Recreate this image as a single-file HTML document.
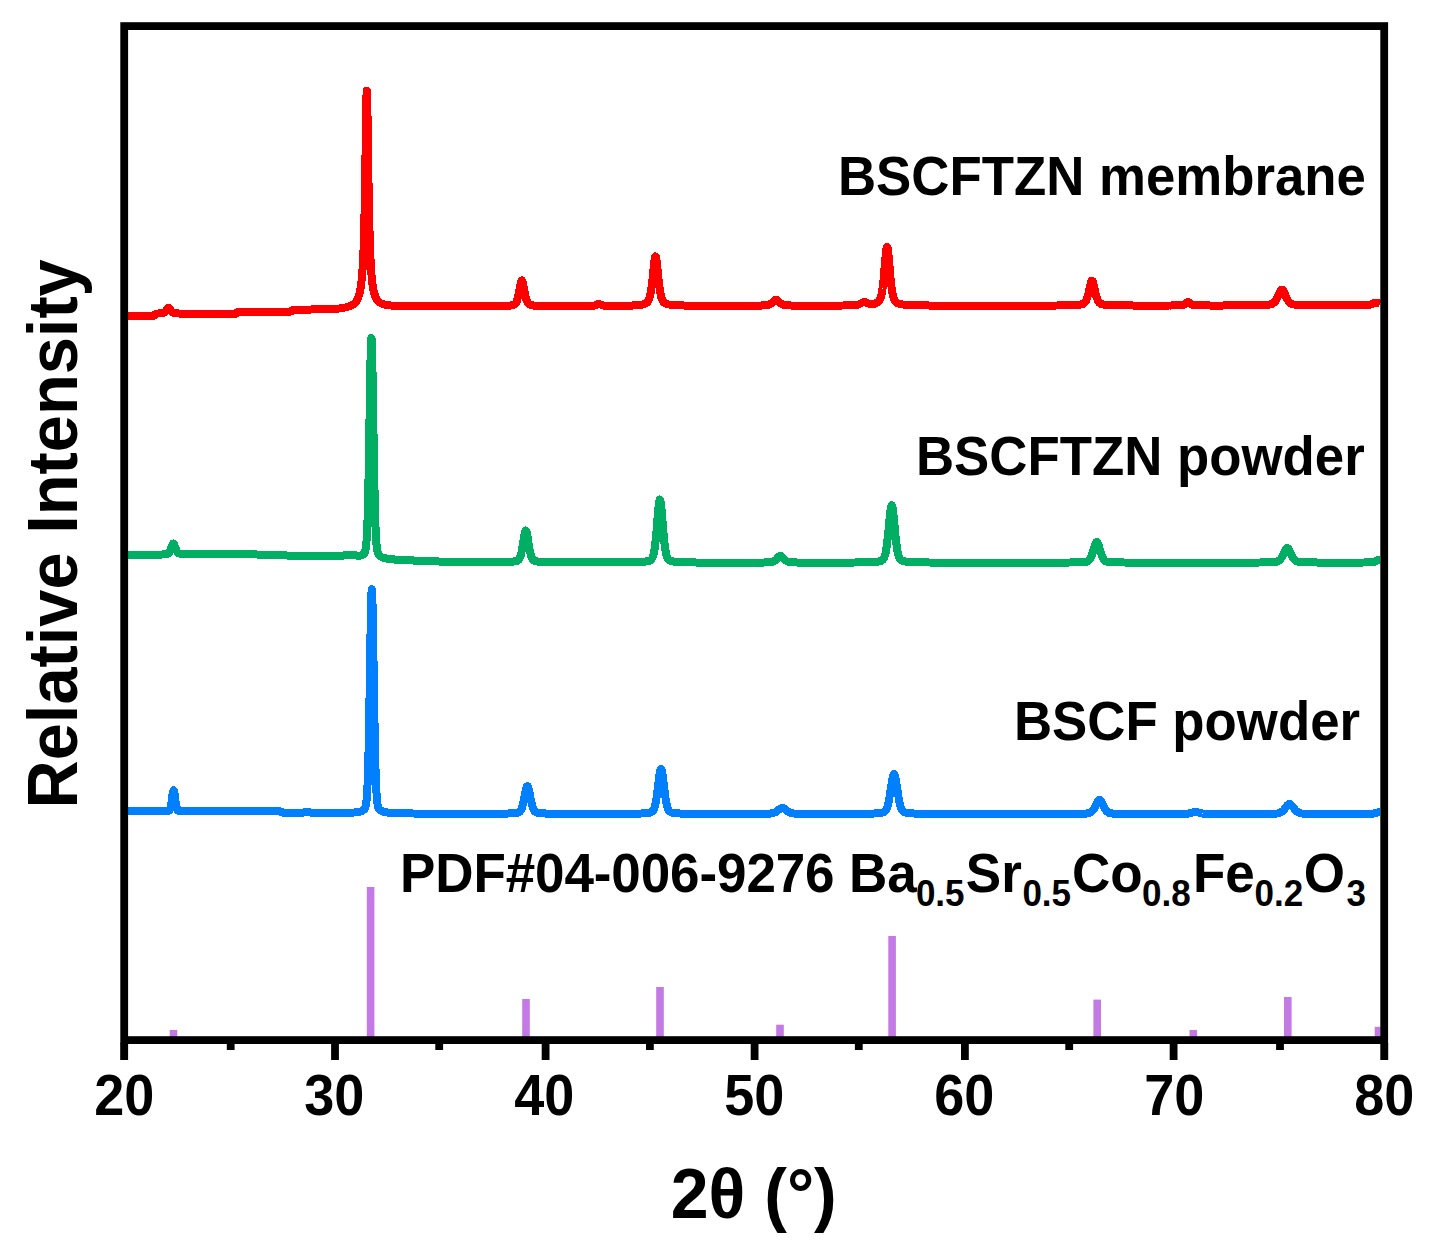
<!DOCTYPE html>
<html><head><meta charset="utf-8"><style>
html,body{margin:0;padding:0;background:#fff;width:1432px;height:1251px;overflow:hidden}
svg{display:block}
.t{font-family:"Liberation Sans",sans-serif;font-weight:bold;fill:#000}
</style></head><body>
<svg width="1432" height="1251" viewBox="0 0 1432 1251">
<rect x="169.7" y="1030.0" width="7.6" height="7.0" fill="#c47ae4"/>
<rect x="366.8" y="887.0" width="7.6" height="150.0" fill="#c47ae4"/>
<rect x="522.2" y="999.0" width="7.6" height="38.0" fill="#c47ae4"/>
<rect x="656.2" y="987.0" width="7.6" height="50.0" fill="#c47ae4"/>
<rect x="776.2" y="1024.7" width="7.6" height="12.3" fill="#c47ae4"/>
<rect x="888.3" y="936.0" width="7.6" height="101.0" fill="#c47ae4"/>
<rect x="1093.4" y="999.6" width="7.6" height="37.4" fill="#c47ae4"/>
<rect x="1189.5" y="1030.0" width="7.6" height="7.0" fill="#c47ae4"/>
<rect x="1284.0" y="997.0" width="7.6" height="40.0" fill="#c47ae4"/>
<rect x="1374.7" y="1026.8" width="5.8" height="10.2" fill="#c47ae4"/>
<path d="M128.00 315.77L128.50 315.77L129.00 315.77L129.50 315.77L130.00 315.77L130.50 315.77L131.00 315.77L131.50 315.77L132.00 315.77L132.50 315.77L133.00 315.77L133.50 315.77L134.00 315.77L134.50 315.77L135.00 315.76L135.50 315.76L136.00 315.76L136.50 315.76L137.00 315.76L137.50 315.76L138.00 315.76L138.50 315.76L139.00 315.76L139.50 315.76L140.00 315.76L140.50 315.76L141.00 315.76L141.50 315.75L142.00 315.75L142.50 315.75L143.00 315.75L143.50 315.75L144.00 315.75L144.50 315.75L145.00 315.75L145.50 315.74L146.00 315.74L146.50 315.74L147.00 315.74L147.50 315.74L148.00 315.74L148.50 315.73L149.00 315.73L149.50 315.73L150.00 315.73L150.50 315.72L151.00 315.72L151.50 315.72L152.00 315.71L152.50 315.71L153.00 315.70L153.50 315.70L154.00 315.69L154.50 315.16L155.00 314.63L155.50 314.10L156.00 313.56L156.50 313.55L157.00 313.54L157.50 313.53L158.00 313.52L158.50 313.50L159.00 313.49L159.50 313.47L160.00 313.44L160.50 313.41L161.00 313.38L161.50 313.33L162.00 313.28L162.50 313.20L163.00 313.08L163.50 312.93L164.00 312.70L164.50 312.40L165.00 311.99L165.50 311.46L166.00 310.82L166.50 310.08L167.00 309.29L167.50 308.54L168.00 307.96L168.50 307.68L168.60 307.67L169.00 307.80L169.50 308.28L170.00 308.98L170.50 309.76L171.00 310.53L171.50 311.21L172.00 311.79L172.50 312.24L173.00 312.59L173.50 312.84L174.00 313.03L174.50 313.15L175.00 313.24L175.50 313.31L176.00 313.36L176.50 313.40L177.00 313.43L177.50 313.45L178.00 313.47L178.50 313.49L179.00 313.51L179.50 313.52L180.00 313.53L180.50 313.54L181.00 313.55L181.50 313.56L182.00 313.57L182.50 313.58L183.00 313.58L183.50 313.59L184.00 313.59L184.50 313.60L185.00 313.60L185.50 313.61L186.00 313.61L186.50 313.61L187.00 313.62L187.50 313.62L188.00 313.62L188.50 313.62L189.00 313.62L189.50 313.63L190.00 313.63L190.50 313.63L191.00 313.63L191.50 313.63L192.00 313.63L192.50 313.64L193.00 313.64L193.50 313.64L194.00 313.64L194.50 313.64L195.00 313.64L195.50 313.64L196.00 313.64L196.50 313.64L197.00 313.64L197.50 313.64L198.00 313.64L198.50 313.64L199.00 313.65L199.50 313.65L200.00 313.65L200.50 313.65L201.00 313.65L201.50 313.65L202.00 313.65L202.50 313.65L203.00 313.65L203.50 313.65L204.00 313.65L204.50 313.65L205.00 313.65L205.50 313.65L206.00 313.65L206.50 313.65L207.00 313.65L207.50 313.65L208.00 313.65L208.50 313.65L209.00 313.65L209.50 313.65L210.00 313.65L210.50 313.65L211.00 313.65L211.50 313.65L212.00 313.65L212.50 313.65L213.00 313.65L213.50 313.65L214.00 313.65L214.50 313.65L215.00 313.65L215.50 313.65L216.00 313.65L216.50 313.65L217.00 313.65L217.50 313.65L218.00 313.65L218.50 313.65L219.00 313.65L219.50 313.65L220.00 313.65L220.50 313.65L221.00 313.65L221.50 313.65L222.00 313.65L222.50 313.65L223.00 313.65L223.50 313.65L224.00 313.65L224.50 313.65L225.00 313.65L225.50 313.65L226.00 313.65L226.50 313.65L227.00 313.65L227.50 313.65L228.00 313.65L228.50 313.65L229.00 313.64L229.50 313.64L230.00 313.64L230.50 313.64L231.00 313.64L231.50 313.64L232.00 313.64L232.50 313.64L233.00 313.64L233.50 313.64L234.00 313.64L234.50 313.64L235.00 313.64L235.50 313.64L236.00 313.64L236.50 313.14L237.00 312.64L237.50 312.14L238.00 311.64L238.50 311.64L239.00 311.64L239.50 311.64L240.00 311.64L240.50 311.64L241.00 311.64L241.50 311.64L242.00 311.64L242.50 311.64L243.00 311.64L243.50 311.63L244.00 311.63L244.50 311.63L245.00 311.63L245.50 311.63L246.00 311.63L246.50 311.63L247.00 311.63L247.50 311.63L248.00 311.63L248.50 311.63L249.00 311.63L249.50 311.63L250.00 311.63L250.50 311.63L251.00 311.63L251.50 311.63L252.00 311.63L252.50 311.63L253.00 311.63L253.50 311.62L254.00 311.62L254.50 311.62L255.00 311.62L255.50 311.62L256.00 311.62L256.50 311.62L257.00 311.62L257.50 311.62L258.00 311.62L258.50 311.62L259.00 311.62L259.50 311.62L260.00 311.62L260.50 311.62L261.00 311.62L261.50 311.61L262.00 311.61L262.50 311.61L263.00 311.61L263.50 311.61L264.00 311.61L264.50 311.61L265.00 311.61L265.50 311.61L266.00 311.61L266.50 311.61L267.00 311.61L267.50 311.60L268.00 311.60L268.50 311.60L269.00 311.60L269.50 311.60L270.00 311.60L270.50 311.60L271.00 311.60L271.50 311.60L272.00 311.60L272.50 311.60L273.00 311.59L273.50 311.59L274.00 311.59L274.50 311.59L275.00 311.59L275.50 311.59L276.00 311.59L276.50 311.59L277.00 311.59L277.50 311.58L278.00 311.58L278.50 311.58L279.00 311.58L279.50 311.58L280.00 311.58L280.50 311.58L281.00 311.57L281.50 311.57L282.00 311.57L282.50 311.57L283.00 311.57L283.50 311.57L284.00 311.57L284.50 311.56L285.00 311.56L285.50 311.56L286.00 311.56L286.50 311.56L287.00 311.56L287.50 311.55L288.00 311.55L288.50 311.55L289.00 311.55L289.50 311.55L290.00 311.55L290.50 311.54L291.00 311.54L291.50 311.09L292.00 310.64L292.50 310.19L293.00 309.73L293.50 309.73L294.00 309.72L294.50 309.72L295.00 309.71L295.50 309.71L296.00 309.70L296.50 309.69L297.00 309.69L297.50 309.68L298.00 309.68L298.50 309.67L299.00 309.67L299.50 309.66L300.00 309.65L300.50 309.65L301.00 309.64L301.50 309.63L302.00 309.63L302.50 309.62L303.00 309.62L303.50 309.61L304.00 309.60L304.50 309.60L305.00 309.59L305.50 309.58L306.00 309.57L306.50 309.57L307.00 309.56L307.50 309.55L308.00 309.55L308.50 309.54L309.00 309.53L309.50 309.52L310.00 309.51L310.50 309.51L311.00 309.50L311.50 309.49L312.00 309.48L312.50 309.47L313.00 309.46L313.50 309.46L314.00 309.45L314.50 309.44L315.00 309.43L315.50 309.42L316.00 309.41L316.50 309.40L317.00 309.39L317.50 309.38L318.00 309.37L318.50 309.36L319.00 309.35L319.50 309.33L320.00 309.32L320.50 309.31L321.00 309.30L321.50 309.29L322.00 309.27L322.50 309.26L323.00 309.25L323.50 309.23L324.00 309.22L324.50 309.21L325.00 309.19L325.50 309.18L326.00 309.16L326.50 309.14L327.00 309.13L327.50 309.11L328.00 309.09L328.50 309.07L329.00 309.05L329.50 309.04L330.00 309.01L330.50 308.99L331.00 308.97L331.50 308.95L332.00 308.93L332.50 308.90L333.00 308.88L333.50 308.85L334.00 308.82L334.50 308.80L335.00 308.77L335.50 308.74L336.00 308.70L336.50 308.67L337.00 308.64L337.50 308.60L338.00 308.56L338.50 308.52L339.00 308.48L339.50 308.43L340.00 308.39L340.50 308.32L341.00 308.24L341.50 308.16L342.00 308.08L342.50 308.00L343.00 307.91L343.50 307.82L344.00 307.73L344.50 307.63L345.00 307.52L345.50 307.41L346.00 307.29L346.50 307.17L347.00 307.04L347.50 306.90L348.00 306.75L348.50 306.59L349.00 306.42L349.50 306.24L350.00 306.04L350.50 305.83L351.00 305.60L351.50 305.35L352.00 305.08L352.50 304.78L353.00 304.45L353.50 304.09L354.00 303.69L354.50 303.25L355.00 302.75L355.50 302.19L356.00 301.56L356.50 300.85L357.00 300.03L357.50 299.08L358.00 297.99L358.50 296.71L359.00 295.21L359.50 293.41L360.00 291.25L360.50 288.63L361.00 285.41L361.50 281.38L362.00 276.30L362.50 269.76L363.00 261.24L363.50 249.96L364.00 234.89L364.50 214.69L365.00 188.15L365.50 155.39L366.00 120.77L366.50 95.53L366.80 90.72L367.00 92.87L367.50 114.43L368.00 148.24L368.50 181.87L369.00 209.70L369.50 231.03L370.00 246.97L370.50 258.86L371.00 267.81L371.50 274.64L372.00 279.93L372.50 284.09L373.00 287.41L373.50 290.09L374.00 292.28L374.50 294.09L375.00 295.59L375.50 296.86L376.00 297.94L376.50 298.86L377.00 299.65L377.50 300.34L378.00 300.93L378.50 301.45L379.00 301.91L379.50 302.31L380.00 302.67L380.50 302.99L381.00 303.27L381.50 303.52L382.00 303.75L382.50 303.95L383.00 304.13L383.50 304.30L384.00 304.45L384.50 304.58L385.00 304.70L385.50 304.81L386.00 304.91L386.50 305.00L387.00 305.08L387.50 305.16L388.00 305.22L388.50 305.29L389.00 305.34L389.50 305.39L390.00 305.44L390.50 305.48L391.00 305.51L391.50 305.55L392.00 305.58L392.50 305.60L393.00 305.63L393.50 305.65L394.00 305.67L394.50 305.68L395.00 305.70L395.50 305.73L396.00 305.77L396.50 305.80L397.00 305.83L397.50 305.86L398.00 305.89L398.50 305.91L399.00 305.94L399.50 305.96L400.00 305.98L400.50 306.01L401.00 306.03L401.50 306.05L402.00 306.06L402.50 306.08L403.00 306.10L403.50 306.12L404.00 306.13L404.50 306.15L405.00 306.16L405.50 306.17L406.00 306.19L406.50 306.20L407.00 306.21L407.50 306.22L408.00 306.24L408.50 306.25L409.00 306.26L409.50 306.27L410.00 306.28L410.50 306.28L411.00 306.29L411.50 306.30L412.00 306.31L412.50 306.32L413.00 306.32L413.50 306.33L414.00 306.34L414.50 306.34L415.00 306.35L415.50 306.36L416.00 306.36L416.50 306.37L417.00 306.37L417.50 306.38L418.00 306.38L418.50 306.39L419.00 306.39L419.50 306.40L420.00 306.40L420.50 306.41L421.00 306.41L421.50 306.41L422.00 306.42L422.50 306.42L423.00 306.42L423.50 306.43L424.00 306.43L424.50 306.43L425.00 306.44L425.50 306.44L426.00 306.44L426.50 306.45L427.00 306.45L427.50 306.45L428.00 306.45L428.50 306.45L429.00 306.46L429.50 306.46L430.00 306.46L430.50 306.46L431.00 306.46L431.50 306.47L432.00 306.47L432.50 306.47L433.00 306.47L433.50 306.47L434.00 306.47L434.50 306.47L435.00 306.47L435.50 306.48L436.00 306.48L436.50 306.48L437.00 306.48L437.50 306.48L438.00 306.48L438.50 306.48L439.00 306.48L439.50 306.48L440.00 306.48L440.50 306.48L441.00 306.48L441.50 306.48L442.00 306.48L442.50 306.48L443.00 306.49L443.50 306.49L444.00 306.49L444.50 306.49L445.00 306.49L445.50 306.49L446.00 306.49L446.50 306.49L447.00 306.49L447.50 306.49L448.00 306.49L448.50 306.49L449.00 306.49L449.50 306.49L450.00 306.48L450.50 306.48L451.00 306.48L451.50 306.48L452.00 306.48L452.50 306.48L453.00 306.48L453.50 306.48L454.00 306.48L454.50 306.48L455.00 306.48L455.50 306.48L456.00 306.48L456.50 306.48L457.00 306.48L457.50 306.48L458.00 306.48L458.50 306.48L459.00 306.47L459.50 306.47L460.00 306.47L460.50 306.47L461.00 306.47L461.50 306.47L462.00 306.47L462.50 306.47L463.00 306.47L463.50 306.47L464.00 306.46L464.50 306.46L465.00 306.46L465.50 306.46L466.00 306.46L466.50 306.46L467.00 306.46L467.50 306.46L468.00 306.45L468.50 306.45L469.00 306.45L469.50 306.45L470.00 306.45L470.50 306.45L471.00 306.45L471.50 306.44L472.00 306.44L472.50 306.44L473.00 306.44L473.50 306.44L474.00 306.44L474.50 306.43L475.00 306.43L475.50 306.43L476.00 306.43L476.50 306.43L477.00 306.42L477.50 306.42L478.00 306.42L478.50 306.42L479.00 306.41L479.50 306.41L480.00 306.41L480.50 306.41L481.00 306.40L481.50 306.40L482.00 306.40L482.50 306.40L483.00 306.39L483.50 306.39L484.00 306.39L484.50 306.38L485.00 306.38L485.50 306.38L486.00 306.37L486.50 306.37L487.00 306.37L487.50 306.36L488.00 306.36L488.50 306.36L489.00 306.35L489.50 306.35L490.00 306.34L490.50 306.34L491.00 306.33L491.50 306.33L492.00 306.32L492.50 306.32L493.00 306.31L493.50 306.31L494.00 306.30L494.50 306.29L495.00 306.29L495.50 306.28L496.00 306.27L496.50 306.26L497.00 306.25L497.50 306.25L498.00 306.24L498.50 306.23L499.00 306.22L499.50 306.21L500.00 306.19L500.50 306.18L501.00 306.17L501.50 306.15L502.00 306.14L502.50 306.12L503.00 306.10L503.50 306.08L504.00 306.06L504.50 306.04L505.00 306.02L505.50 305.99L506.00 305.97L506.50 305.93L507.00 305.90L507.50 305.86L508.00 305.82L508.50 305.78L509.00 305.73L509.50 305.68L510.00 305.62L510.50 305.55L511.00 305.47L511.50 305.38L512.00 305.28L512.50 305.16L513.00 305.01L513.50 304.83L514.00 304.60L514.50 304.30L515.00 303.90L515.50 303.37L516.00 302.67L516.50 301.74L517.00 300.53L517.50 299.00L518.00 297.11L518.50 294.88L519.00 292.32L519.50 289.54L520.00 286.69L520.50 284.01L521.00 281.86L521.50 280.59L521.80 280.37L522.00 280.46L522.50 281.52L523.00 283.52L523.50 286.12L524.00 288.95L524.50 291.76L525.00 294.37L525.50 296.67L526.00 298.62L526.50 300.22L527.00 301.48L527.50 302.46L528.00 303.21L528.50 303.76L529.00 304.18L529.50 304.49L530.00 304.73L530.50 304.92L531.00 305.07L531.50 305.19L532.00 305.29L532.50 305.38L533.00 305.46L533.50 305.52L534.00 305.58L534.50 305.64L535.00 305.68L535.50 305.73L536.00 305.76L536.50 305.80L537.00 305.83L537.50 305.86L538.00 305.88L538.50 305.90L539.00 305.92L539.50 305.94L540.00 305.96L540.50 305.98L541.00 305.99L541.50 306.00L542.00 306.02L542.50 306.03L543.00 306.04L543.50 306.05L544.00 306.06L544.50 306.06L545.00 306.07L545.50 306.08L546.00 306.09L546.50 306.09L547.00 306.10L547.50 306.10L548.00 306.11L548.50 306.11L549.00 306.11L549.50 306.12L550.00 306.12L550.50 306.12L551.00 306.13L551.50 306.13L552.00 306.13L552.50 306.13L553.00 306.14L553.50 306.14L554.00 306.14L554.50 306.14L555.00 306.14L555.50 306.14L556.00 306.14L556.50 306.14L557.00 306.15L557.50 306.15L558.00 306.15L558.50 306.15L559.00 306.15L559.50 306.15L560.00 306.15L560.50 306.15L561.00 306.15L561.50 306.15L562.00 306.15L562.50 306.15L563.00 306.15L563.50 306.14L564.00 306.14L564.50 306.14L565.00 306.14L565.50 306.14L566.00 306.14L566.50 306.14L567.00 306.14L567.50 306.14L568.00 306.14L568.50 306.14L569.00 306.13L569.50 306.13L570.00 306.13L570.50 306.13L571.00 306.13L571.50 306.13L572.00 306.13L572.50 306.12L573.00 306.12L573.50 306.12L574.00 306.12L574.50 306.12L575.00 306.11L575.50 306.11L576.00 306.11L576.50 306.11L577.00 306.11L577.50 306.10L578.00 306.10L578.50 306.10L579.00 306.10L579.50 306.09L580.00 306.09L580.50 306.09L581.00 306.08L581.50 306.08L582.00 306.08L582.50 306.07L583.00 306.07L583.50 306.07L584.00 306.06L584.50 306.06L585.00 306.05L585.50 306.05L586.00 306.04L586.50 306.04L587.00 306.03L587.50 306.02L588.00 306.01L588.50 306.00L589.00 306.00L589.50 305.98L590.00 305.97L590.50 305.96L591.00 305.94L591.50 305.91L592.00 305.88L592.50 305.84L593.00 305.79L593.50 305.72L594.00 305.63L594.50 305.51L595.00 305.37L595.50 305.20L596.00 305.01L596.50 304.79L597.00 304.57L597.50 304.36L598.00 304.18L598.50 304.06L598.90 304.03L599.00 304.03L599.50 304.09L600.00 304.23L600.50 304.42L601.00 304.63L601.50 304.85L602.00 305.05L602.50 305.23L603.00 305.38L603.50 305.51L604.00 305.61L604.50 305.68L605.00 305.74L605.50 305.78L606.00 305.81L606.50 305.83L607.00 305.85L607.50 305.86L608.00 305.87L608.50 305.87L609.00 305.88L609.50 305.88L610.00 305.88L610.50 305.89L611.00 305.89L611.50 305.89L612.00 305.88L612.50 305.88L613.00 305.88L613.50 305.88L614.00 305.88L614.50 305.87L615.00 305.87L615.50 305.87L616.00 305.86L616.50 305.86L617.00 305.85L617.50 305.85L618.00 305.84L618.50 305.84L619.00 305.83L619.50 305.83L620.00 305.82L620.50 305.81L621.00 305.81L621.50 305.80L622.00 305.79L622.50 305.78L623.00 305.78L623.50 305.77L624.00 305.76L624.50 305.75L625.00 305.74L625.50 305.73L626.00 305.72L626.50 305.71L627.00 305.69L627.50 305.68L628.00 305.67L628.50 305.66L629.00 305.64L629.50 305.63L630.00 305.61L630.50 305.59L631.00 305.57L631.50 305.55L632.00 305.53L632.50 305.51L633.00 305.49L633.50 305.47L634.00 305.44L634.50 305.41L635.00 305.38L635.50 305.35L636.00 305.32L636.50 305.28L637.00 305.24L637.50 305.20L638.00 305.16L638.50 305.11L639.00 305.05L639.50 305.00L640.00 304.93L640.50 304.86L641.00 304.79L641.50 304.70L642.00 304.61L642.50 304.51L643.00 304.40L643.50 304.27L644.00 304.13L644.50 303.97L645.00 303.78L645.50 303.56L646.00 303.30L646.50 302.98L647.00 302.58L647.50 302.07L648.00 301.42L648.50 300.57L649.00 299.45L649.50 298.00L650.00 296.14L650.50 293.79L651.00 290.90L651.50 287.44L652.00 283.40L652.50 278.86L653.00 273.96L653.50 268.94L654.00 264.17L654.50 260.14L655.00 257.40L655.50 256.42L656.00 257.40L656.50 260.13L657.00 264.16L657.50 268.93L658.00 273.94L658.50 278.84L659.00 283.38L659.50 287.41L660.00 290.87L660.50 293.76L661.00 296.10L661.50 297.96L662.00 299.41L662.50 300.52L663.00 301.37L663.50 302.02L664.00 302.52L664.50 302.92L665.00 303.23L665.50 303.49L666.00 303.71L666.50 303.89L667.00 304.05L667.50 304.19L668.00 304.31L668.50 304.42L669.00 304.52L669.50 304.61L670.00 304.69L670.50 304.76L671.00 304.83L671.50 304.89L672.00 304.94L672.50 304.99L673.00 305.04L673.50 305.08L674.00 305.12L674.50 305.16L675.00 305.19L675.50 305.22L676.00 305.25L676.50 305.27L677.00 305.30L677.50 305.32L678.00 305.34L678.50 305.36L679.00 305.38L679.50 305.40L680.00 305.41L680.50 305.43L681.00 305.44L681.50 305.45L682.00 305.47L682.50 305.48L683.00 305.49L683.50 305.50L684.00 305.51L684.50 305.52L685.00 305.53L685.50 305.53L686.00 305.54L686.50 305.55L687.00 305.55L687.50 305.56L688.00 305.57L688.50 305.57L689.00 305.58L689.50 305.58L690.00 305.59L690.50 305.59L691.00 305.60L691.50 305.60L692.00 305.60L692.50 305.61L693.00 305.61L693.50 305.61L694.00 305.61L694.50 305.62L695.00 305.62L695.50 305.62L696.00 305.62L696.50 305.63L697.00 305.63L697.50 305.63L698.00 305.63L698.50 305.63L699.00 305.63L699.50 305.64L700.00 305.64L700.50 305.64L701.00 305.64L701.50 305.64L702.00 305.65L702.50 305.65L703.00 305.65L703.50 305.65L704.00 305.65L704.50 305.66L705.00 305.66L705.50 305.66L706.00 305.66L706.50 305.66L707.00 305.66L707.50 305.67L708.00 305.67L708.50 305.67L709.00 305.67L709.50 305.67L710.00 305.67L710.50 305.67L711.00 305.68L711.50 305.68L712.00 305.68L712.50 305.68L713.00 305.68L713.50 305.68L714.00 305.68L714.50 305.68L715.00 305.68L715.50 305.68L716.00 305.68L716.50 305.68L717.00 305.69L717.50 305.69L718.00 305.69L718.50 305.69L719.00 305.69L719.50 305.69L720.00 305.69L720.50 305.69L721.00 305.69L721.50 305.69L722.00 305.69L722.50 305.69L723.00 305.69L723.50 305.69L724.00 305.69L724.50 305.69L725.00 305.69L725.50 305.69L726.00 305.69L726.50 305.69L727.00 305.69L727.50 305.69L728.00 305.69L728.50 305.69L729.00 305.69L729.50 305.69L730.00 305.69L730.50 305.69L731.00 305.69L731.50 305.69L732.00 305.69L732.50 305.69L733.00 305.69L733.50 305.69L734.00 305.69L734.50 305.69L735.00 305.69L735.50 305.69L736.00 305.69L736.50 305.69L737.00 305.69L737.50 305.69L738.00 305.69L738.50 305.68L739.00 305.68L739.50 305.68L740.00 305.68L740.50 305.68L741.00 305.68L741.50 305.68L742.00 305.68L742.50 305.68L743.00 305.68L743.50 305.67L744.00 305.67L744.50 305.67L745.00 305.67L745.50 305.67L746.00 305.67L746.50 305.67L747.00 305.66L747.50 305.66L748.00 305.66L748.50 305.66L749.00 305.66L749.50 305.65L750.00 305.65L750.50 305.65L751.00 305.64L751.50 305.64L752.00 305.64L752.50 305.64L753.00 305.63L753.50 305.63L754.00 305.62L754.50 305.62L755.00 305.61L755.50 305.61L756.00 305.60L756.50 305.60L757.00 305.59L757.50 305.58L758.00 305.58L758.50 305.57L759.00 305.56L759.50 305.55L760.00 305.54L760.50 305.53L761.00 305.52L761.50 305.51L762.00 305.49L762.50 305.47L763.00 305.46L763.50 305.43L764.00 305.41L764.50 305.38L765.00 305.35L765.50 305.31L766.00 305.26L766.50 305.20L767.00 305.13L767.50 305.04L768.00 304.93L768.50 304.79L769.00 304.62L769.50 304.41L770.00 304.16L770.50 303.87L771.00 303.53L771.50 303.14L772.00 302.71L772.50 302.25L773.00 301.76L773.50 301.27L774.00 300.79L774.50 300.36L775.00 300.01L775.50 299.79L776.00 299.71L776.50 299.79L777.00 300.01L777.50 300.36L778.00 300.79L778.50 301.26L779.00 301.76L779.50 302.24L780.00 302.71L780.50 303.14L781.00 303.52L781.50 303.86L782.00 304.15L782.50 304.40L783.00 304.61L783.50 304.78L784.00 304.92L784.50 305.03L785.00 305.12L785.50 305.19L786.00 305.25L786.50 305.30L787.00 305.34L787.50 305.37L788.00 305.40L788.50 305.42L789.00 305.44L789.50 305.46L790.00 305.47L790.50 305.49L791.00 305.50L791.50 305.51L792.00 305.52L792.50 305.53L793.00 305.54L793.50 305.55L794.00 305.55L794.50 305.56L795.00 305.57L795.50 305.57L796.00 305.58L796.50 305.58L797.00 305.59L797.50 305.59L798.00 305.59L798.50 305.60L799.00 305.60L799.50 305.60L800.00 305.61L800.50 305.61L801.00 305.61L801.50 305.61L802.00 305.62L802.50 305.62L803.00 305.62L803.50 305.62L804.00 305.62L804.50 305.62L805.00 305.62L805.50 305.63L806.00 305.63L806.50 305.63L807.00 305.63L807.50 305.63L808.00 305.63L808.50 305.63L809.00 305.63L809.50 305.63L810.00 305.63L810.50 305.63L811.00 305.63L811.50 305.63L812.00 305.63L812.50 305.63L813.00 305.63L813.50 305.63L814.00 305.63L814.50 305.63L815.00 305.63L815.50 305.63L816.00 305.63L816.50 305.63L817.00 305.63L817.50 305.63L818.00 305.63L818.50 305.63L819.00 305.62L819.50 305.62L820.00 305.62L820.50 305.62L821.00 305.62L821.50 305.62L822.00 305.62L822.50 305.62L823.00 305.62L823.50 305.62L824.00 305.61L824.50 305.61L825.00 305.61L825.50 305.61L826.00 305.61L826.50 305.61L827.00 305.60L827.50 305.60L828.00 305.60L828.50 305.60L829.00 305.60L829.50 305.60L830.00 305.59L830.50 305.59L831.00 305.59L831.50 305.59L832.00 305.58L832.50 305.58L833.00 305.58L833.50 305.58L834.00 305.57L834.50 305.57L835.00 305.57L835.50 305.56L836.00 305.56L836.50 305.56L837.00 305.55L837.50 305.55L838.00 305.55L838.50 305.54L839.00 305.54L839.50 305.53L840.00 305.53L840.50 305.53L841.00 305.52L841.50 305.52L842.00 305.51L842.50 305.50L843.00 305.50L843.50 305.49L844.00 305.49L844.50 305.48L845.00 305.47L845.50 305.46L846.00 305.46L846.50 305.45L847.00 305.44L847.50 305.43L848.00 305.42L848.50 305.41L849.00 305.40L849.50 305.39L850.00 305.37L850.50 305.36L851.00 305.34L851.50 305.33L852.00 305.31L852.50 305.29L853.00 305.26L853.50 305.23L854.00 305.20L854.50 305.16L855.00 305.12L855.50 305.06L856.00 305.00L856.50 304.92L857.00 304.82L857.50 304.71L858.00 304.57L858.50 304.41L859.00 304.23L859.50 304.02L860.00 303.79L860.50 303.54L861.00 303.28L861.50 303.02L862.00 302.76L862.50 302.53L863.00 302.33L863.50 302.20L864.00 302.14L864.50 302.15L865.00 302.24L865.50 302.38L866.00 302.56L866.50 302.77L867.00 302.98L867.50 303.19L868.00 303.38L868.50 303.55L869.00 303.69L869.50 303.81L870.00 303.90L870.50 303.97L871.00 304.00L871.50 304.02L872.00 304.01L872.50 303.98L873.00 303.93L873.50 303.86L874.00 303.77L874.50 303.67L875.00 303.54L875.50 303.39L876.00 303.22L876.50 303.02L877.00 302.78L877.50 302.49L878.00 302.13L878.50 301.69L879.00 301.13L879.50 300.40L880.00 299.44L880.50 298.19L881.00 296.56L881.50 294.46L882.00 291.81L882.50 288.51L883.00 284.54L883.50 279.88L884.00 274.60L884.50 268.85L885.00 262.90L885.50 257.13L886.00 252.12L886.50 248.51L887.00 246.90L887.10 246.86L887.50 247.60L888.00 250.47L888.50 255.01L889.00 260.55L889.50 266.49L890.00 272.37L890.50 277.86L891.00 282.78L891.50 287.04L892.00 290.60L892.50 293.51L893.00 295.83L893.50 297.64L894.00 299.04L894.50 300.11L895.00 300.93L895.50 301.56L896.00 302.05L896.50 302.45L897.00 302.77L897.50 303.03L898.00 303.26L898.50 303.46L899.00 303.63L899.50 303.79L900.00 303.92L900.50 304.04L901.00 304.15L901.50 304.25L902.00 304.34L902.50 304.42L903.00 304.50L903.50 304.57L904.00 304.63L904.50 304.69L905.00 304.74L905.50 304.79L906.00 304.83L906.50 304.88L907.00 304.92L907.50 304.95L908.00 304.99L908.50 305.02L909.00 305.05L909.50 305.07L910.00 305.10L910.50 305.12L911.00 305.15L911.50 305.17L912.00 305.19L912.50 305.21L913.00 305.22L913.50 305.24L914.00 305.26L914.50 305.27L915.00 305.29L915.50 305.30L916.00 305.31L916.50 305.32L917.00 305.34L917.50 305.35L918.00 305.36L918.50 305.37L919.00 305.38L919.50 305.39L920.00 305.39L920.50 305.40L921.00 305.41L921.50 305.42L922.00 305.43L922.50 305.43L923.00 305.44L923.50 305.45L924.00 305.45L924.50 305.46L925.00 305.46L925.50 305.47L926.00 305.47L926.50 305.48L927.00 305.48L927.50 305.49L928.00 305.49L928.50 305.50L929.00 305.50L929.50 305.50L930.00 305.51L930.50 305.51L931.00 305.52L931.50 305.52L932.00 305.52L932.50 305.53L933.00 305.53L933.50 305.53L934.00 305.53L934.50 305.54L935.00 305.54L935.50 305.54L936.00 305.55L936.50 305.55L937.00 305.55L937.50 305.55L938.00 305.55L938.50 305.56L939.00 305.56L939.50 305.56L940.00 305.56L940.50 305.56L941.00 305.57L941.50 305.57L942.00 305.57L942.50 305.57L943.00 305.57L943.50 305.57L944.00 305.58L944.50 305.58L945.00 305.58L945.50 305.58L946.00 305.58L946.50 305.58L947.00 305.58L947.50 305.59L948.00 305.59L948.50 305.59L949.00 305.59L949.50 305.59L950.00 305.59L950.50 305.59L951.00 305.59L951.50 305.59L952.00 305.59L952.50 305.60L953.00 305.60L953.50 305.60L954.00 305.60L954.50 305.60L955.00 305.60L955.50 305.60L956.00 305.60L956.50 305.60L957.00 305.60L957.50 305.60L958.00 305.60L958.50 305.60L959.00 305.61L959.50 305.61L960.00 305.61L960.50 305.61L961.00 305.61L961.50 305.61L962.00 305.61L962.50 305.61L963.00 305.61L963.50 305.61L964.00 305.61L964.50 305.61L965.00 305.61L965.50 305.61L966.00 305.61L966.50 305.61L967.00 305.61L967.50 305.61L968.00 305.61L968.50 305.61L969.00 305.61L969.50 305.61L970.00 305.61L970.50 305.61L971.00 305.61L971.50 305.62L972.00 305.62L972.50 305.62L973.00 305.62L973.50 305.62L974.00 305.62L974.50 305.62L975.00 305.62L975.50 305.62L976.00 305.62L976.50 305.62L977.00 305.62L977.50 305.62L978.00 305.62L978.50 305.62L979.00 305.62L979.50 305.62L980.00 305.62L980.50 305.62L981.00 305.62L981.50 305.62L982.00 305.62L982.50 305.62L983.00 305.62L983.50 305.62L984.00 305.62L984.50 305.62L985.00 305.62L985.50 305.62L986.00 305.62L986.50 305.62L987.00 305.62L987.50 305.62L988.00 305.62L988.50 305.62L989.00 305.62L989.50 305.62L990.00 305.62L990.50 305.62L991.00 305.62L991.50 305.62L992.00 305.62L992.50 305.62L993.00 305.62L993.50 305.62L994.00 305.62L994.50 305.62L995.00 305.62L995.50 305.62L996.00 305.62L996.50 305.62L997.00 305.62L997.50 305.62L998.00 305.62L998.50 305.62L999.00 305.62L999.50 305.62L1000.00 305.62L1000.50 305.62L1001.00 305.62L1001.50 305.61L1002.00 305.61L1002.50 305.61L1003.00 305.61L1003.50 305.61L1004.00 305.61L1004.50 305.61L1005.00 305.61L1005.50 305.61L1006.00 305.61L1006.50 305.61L1007.00 305.61L1007.50 305.61L1008.00 305.61L1008.50 305.61L1009.00 305.61L1009.50 305.61L1010.00 305.61L1010.50 305.61L1011.00 305.61L1011.50 305.61L1012.00 305.61L1012.50 305.61L1013.00 305.61L1013.50 305.61L1014.00 305.61L1014.50 305.61L1015.00 305.61L1015.50 305.61L1016.00 305.61L1016.50 305.61L1017.00 305.61L1017.50 305.60L1018.00 305.60L1018.50 305.60L1019.00 305.60L1019.50 305.60L1020.00 305.60L1020.50 305.60L1021.00 305.60L1021.50 305.60L1022.00 305.60L1022.50 305.60L1023.00 305.60L1023.50 305.60L1024.00 305.60L1024.50 305.60L1025.00 305.60L1025.50 305.60L1026.00 305.60L1026.50 305.60L1027.00 305.59L1027.50 305.59L1028.00 305.59L1028.50 305.59L1029.00 305.59L1029.50 305.59L1030.00 305.59L1030.50 305.59L1031.00 305.59L1031.50 305.59L1032.00 305.59L1032.50 305.59L1033.00 305.59L1033.50 305.58L1034.00 305.58L1034.50 305.58L1035.00 305.58L1035.50 305.58L1036.00 305.58L1036.50 305.58L1037.00 305.58L1037.50 305.58L1038.00 305.58L1038.50 305.57L1039.00 305.57L1039.50 305.57L1040.00 305.57L1040.50 305.57L1041.00 305.57L1041.50 305.57L1042.00 305.57L1042.50 305.56L1043.00 305.56L1043.50 305.56L1044.00 305.56L1044.50 305.56L1045.00 305.56L1045.50 305.56L1046.00 305.55L1046.50 305.55L1047.00 305.55L1047.50 305.55L1048.00 305.55L1048.50 305.54L1049.00 305.54L1049.50 305.54L1050.00 305.54L1050.50 305.54L1051.00 305.53L1051.50 305.53L1052.00 305.53L1052.50 305.53L1053.00 305.52L1053.50 305.52L1054.00 305.52L1054.50 305.52L1055.00 305.51L1055.50 305.51L1056.00 305.51L1056.50 305.50L1057.00 305.50L1057.50 305.49L1058.00 305.49L1058.50 305.49L1059.00 305.48L1059.50 305.48L1060.00 305.47L1060.50 305.47L1061.00 305.46L1061.50 305.46L1062.00 305.45L1062.50 305.45L1063.00 305.44L1063.50 305.43L1064.00 305.43L1064.50 305.42L1065.00 305.41L1065.50 305.41L1066.00 305.40L1066.50 305.39L1067.00 305.38L1067.50 305.37L1068.00 305.36L1068.50 305.35L1069.00 305.34L1069.50 305.32L1070.00 305.31L1070.50 305.29L1071.00 305.28L1071.50 305.26L1072.00 305.25L1072.50 305.23L1073.00 305.21L1073.50 305.18L1074.00 305.16L1074.50 305.14L1075.00 305.11L1075.50 305.08L1076.00 305.04L1076.50 305.01L1077.00 304.97L1077.50 304.93L1078.00 304.88L1078.50 304.83L1079.00 304.77L1079.50 304.70L1080.00 304.63L1080.50 304.55L1081.00 304.45L1081.50 304.34L1082.00 304.21L1082.50 304.04L1083.00 303.84L1083.50 303.59L1084.00 303.27L1084.50 302.86L1085.00 302.33L1085.50 301.66L1086.00 300.81L1086.50 299.75L1087.00 298.46L1087.50 296.92L1088.00 295.14L1088.50 293.11L1089.00 290.89L1089.50 288.56L1090.00 286.22L1090.50 284.04L1091.00 282.24L1091.50 281.03L1092.00 280.61L1092.50 281.03L1093.00 282.24L1093.50 284.04L1094.00 286.22L1094.50 288.55L1095.00 290.89L1095.50 293.11L1096.00 295.13L1096.50 296.92L1097.00 298.46L1097.50 299.75L1098.00 300.80L1098.50 301.65L1099.00 302.32L1099.50 302.85L1100.00 303.26L1100.50 303.58L1101.00 303.83L1101.50 304.04L1102.00 304.20L1102.50 304.33L1103.00 304.44L1103.50 304.54L1104.00 304.62L1104.50 304.69L1105.00 304.76L1105.50 304.82L1106.00 304.87L1106.50 304.91L1107.00 304.96L1107.50 305.00L1108.00 305.03L1108.50 305.06L1109.00 305.09L1109.50 305.12L1110.00 305.15L1110.50 305.17L1111.00 305.19L1111.50 305.21L1112.00 305.23L1112.50 305.25L1113.00 305.26L1113.50 305.28L1114.00 305.29L1114.50 305.30L1115.00 305.32L1115.50 305.33L1116.00 305.34L1116.50 305.35L1117.00 305.36L1117.50 305.37L1118.00 305.37L1118.50 305.38L1119.00 305.39L1119.50 305.40L1120.00 305.40L1120.50 305.41L1121.00 305.42L1121.50 305.42L1122.00 305.43L1122.50 305.43L1123.00 305.44L1123.50 305.44L1124.00 305.45L1124.50 305.45L1125.00 305.45L1125.50 305.46L1126.00 305.46L1126.50 305.46L1127.00 305.47L1127.50 305.47L1128.00 305.47L1128.50 305.48L1129.00 305.48L1129.50 305.48L1130.00 305.48L1130.50 305.49L1131.00 305.49L1131.50 305.49L1132.00 305.49L1132.50 305.50L1133.00 305.50L1133.50 305.50L1134.00 305.50L1134.50 305.50L1135.00 305.50L1135.50 305.51L1136.00 305.51L1136.50 305.51L1137.00 305.51L1137.50 305.51L1138.00 305.51L1138.50 305.51L1139.00 305.51L1139.50 305.52L1140.00 305.52L1140.50 305.52L1141.00 305.52L1141.50 305.52L1142.00 305.52L1142.50 305.52L1143.00 305.52L1143.50 305.52L1144.00 305.52L1144.50 305.52L1145.00 305.52L1145.50 305.52L1146.00 305.53L1146.50 305.53L1147.00 305.53L1147.50 305.53L1148.00 305.53L1148.50 305.53L1149.00 305.53L1149.50 305.53L1150.00 305.53L1150.50 305.53L1151.00 305.53L1151.50 305.53L1152.00 305.53L1152.50 305.53L1153.00 305.53L1153.50 305.53L1154.00 305.53L1154.50 305.53L1155.00 305.53L1155.50 305.53L1156.00 305.53L1156.50 305.53L1157.00 305.53L1157.50 305.53L1158.00 305.53L1158.50 305.53L1159.00 305.53L1159.50 305.53L1160.00 305.53L1160.50 305.53L1161.00 305.53L1161.50 305.52L1162.00 305.52L1162.50 305.52L1163.00 305.52L1163.50 305.52L1164.00 305.52L1164.50 305.52L1165.00 305.52L1165.50 305.52L1166.00 305.52L1166.50 305.51L1167.00 305.51L1167.50 305.51L1168.00 305.51L1168.50 305.51L1169.00 305.51L1169.50 305.50L1170.00 305.50L1170.50 305.50L1171.00 305.50L1171.50 305.49L1172.00 305.49L1172.50 305.49L1173.00 305.48L1173.50 305.48L1174.00 305.47L1174.50 305.47L1175.00 305.46L1175.50 305.46L1176.00 305.45L1176.50 305.44L1177.00 305.43L1177.50 305.42L1178.00 305.41L1178.50 305.39L1179.00 305.37L1179.50 305.35L1180.00 305.32L1180.50 305.29L1181.00 305.24L1181.50 305.18L1182.00 305.09L1182.50 304.98L1183.00 304.84L1183.50 304.65L1184.00 304.42L1184.50 304.14L1185.00 303.83L1185.50 303.48L1186.00 303.12L1186.50 302.77L1187.00 302.48L1187.50 302.29L1187.90 302.24L1188.00 302.25L1188.50 302.35L1189.00 302.58L1189.50 302.90L1190.00 303.26L1190.50 303.62L1191.00 303.96L1191.50 304.26L1192.00 304.51L1192.50 304.72L1193.00 304.89L1193.50 305.02L1194.00 305.12L1194.50 305.20L1195.00 305.25L1195.50 305.30L1196.00 305.33L1196.50 305.35L1197.00 305.37L1197.50 305.39L1198.00 305.40L1198.50 305.41L1199.00 305.42L1199.50 305.43L1200.00 305.44L1200.50 305.45L1201.00 305.45L1201.50 305.46L1202.00 305.46L1202.50 305.47L1203.00 305.47L1203.50 305.47L1204.00 305.48L1204.50 305.48L1205.00 305.48L1205.50 305.48L1206.00 305.49L1206.50 305.49L1207.00 305.49L1207.50 305.49L1208.00 305.49L1208.50 305.49L1209.00 305.49L1209.50 305.50L1210.00 305.50L1210.50 305.50L1211.00 305.50L1211.50 305.50L1212.00 305.50L1212.50 305.50L1213.00 305.50L1213.50 305.50L1214.00 305.50L1214.50 305.50L1215.00 305.50L1215.50 305.50L1216.00 305.50L1216.50 305.50L1217.00 305.50L1217.50 305.50L1218.00 305.50L1218.50 305.50L1219.00 305.50L1219.50 305.50L1220.00 305.50L1220.50 305.50L1221.00 305.50L1221.50 305.50L1222.00 305.50L1222.50 305.50L1223.00 305.50L1223.50 305.49L1224.00 305.49L1224.50 305.49L1225.00 305.49L1225.50 305.49L1226.00 305.49L1226.50 305.49L1227.00 305.49L1227.50 305.49L1228.00 305.49L1228.50 305.49L1229.00 305.49L1229.50 305.48L1230.00 305.48L1230.50 305.48L1231.00 305.48L1231.50 305.48L1232.00 305.48L1232.50 305.48L1233.00 305.48L1233.50 305.47L1234.00 305.47L1234.50 305.47L1235.00 305.47L1235.50 305.47L1236.00 305.47L1236.50 305.47L1237.00 305.46L1237.50 305.46L1238.00 305.46L1238.50 305.46L1239.00 305.46L1239.50 305.45L1240.00 305.45L1240.50 305.45L1241.00 305.45L1241.50 305.44L1242.00 305.44L1242.50 305.44L1243.00 305.44L1243.50 305.43L1244.00 305.43L1244.50 305.43L1245.00 305.42L1245.50 305.42L1246.00 305.42L1246.50 305.41L1247.00 305.41L1247.50 305.41L1248.00 305.40L1248.50 305.40L1249.00 305.39L1249.50 305.39L1250.00 305.38L1250.50 305.38L1251.00 305.37L1251.50 305.37L1252.00 305.36L1252.50 305.36L1253.00 305.35L1253.50 305.34L1254.00 305.34L1254.50 305.33L1255.00 305.32L1255.50 305.31L1256.00 305.31L1256.50 305.30L1257.00 305.29L1257.50 305.28L1258.00 305.26L1258.50 305.25L1259.00 305.24L1259.50 305.23L1260.00 305.21L1260.50 305.20L1261.00 305.18L1261.50 305.17L1262.00 305.15L1262.50 305.13L1263.00 305.11L1263.50 305.09L1264.00 305.06L1264.50 305.04L1265.00 305.01L1265.50 304.98L1266.00 304.94L1266.50 304.90L1267.00 304.86L1267.50 304.82L1268.00 304.77L1268.50 304.71L1269.00 304.64L1269.50 304.56L1270.00 304.47L1270.50 304.36L1271.00 304.23L1271.50 304.08L1272.00 303.88L1272.50 303.65L1273.00 303.37L1273.50 303.03L1274.00 302.63L1274.50 302.15L1275.00 301.58L1275.50 300.92L1276.00 300.16L1276.50 299.31L1277.00 298.36L1277.50 297.32L1278.00 296.21L1278.50 295.05L1279.00 293.88L1279.50 292.73L1280.00 291.67L1280.50 290.76L1281.00 290.06L1281.50 289.64L1281.90 289.53L1282.00 289.54L1282.50 289.77L1283.00 290.31L1283.50 291.10L1284.00 292.08L1284.50 293.18L1285.00 294.35L1285.50 295.52L1286.00 296.66L1286.50 297.74L1287.00 298.74L1287.50 299.65L1288.00 300.47L1288.50 301.19L1289.00 301.81L1289.50 302.34L1290.00 302.79L1290.50 303.17L1291.00 303.48L1291.50 303.74L1292.00 303.96L1292.50 304.13L1293.00 304.28L1293.50 304.40L1294.00 304.50L1294.50 304.59L1295.00 304.66L1295.50 304.72L1296.00 304.78L1296.50 304.82L1297.00 304.87L1297.50 304.91L1298.00 304.94L1298.50 304.97L1299.00 305.00L1299.50 305.03L1300.00 305.06L1300.50 305.08L1301.00 305.10L1301.50 305.12L1302.00 305.14L1302.50 305.16L1303.00 305.17L1303.50 305.19L1304.00 305.20L1304.50 305.22L1305.00 305.23L1305.50 305.24L1306.00 305.25L1306.50 305.26L1307.00 305.27L1307.50 305.28L1308.00 305.29L1308.50 305.30L1309.00 305.30L1309.50 305.31L1310.00 305.32L1310.50 305.32L1311.00 305.33L1311.50 305.34L1312.00 305.34L1312.50 305.35L1313.00 305.35L1313.50 305.36L1314.00 305.36L1314.50 305.37L1315.00 305.37L1315.50 305.37L1316.00 305.38L1316.50 305.38L1317.00 305.38L1317.50 305.39L1318.00 305.39L1318.50 305.39L1319.00 305.40L1319.50 305.40L1320.00 305.40L1320.50 305.40L1321.00 305.41L1321.50 305.41L1322.00 305.41L1322.50 305.41L1323.00 305.41L1323.50 305.42L1324.00 305.42L1324.50 305.42L1325.00 305.42L1325.50 305.42L1326.00 305.42L1326.50 305.43L1327.00 305.43L1327.50 305.43L1328.00 305.43L1328.50 305.43L1329.00 305.43L1329.50 305.43L1330.00 305.43L1330.50 305.44L1331.00 305.44L1331.50 305.44L1332.00 305.44L1332.50 305.44L1333.00 305.44L1333.50 305.44L1334.00 305.44L1334.50 305.44L1335.00 305.44L1335.50 305.44L1336.00 305.44L1336.50 305.44L1337.00 305.44L1337.50 305.44L1338.00 305.44L1338.50 305.44L1339.00 305.44L1339.50 305.44L1340.00 305.45L1340.50 305.45L1341.00 305.45L1341.50 305.45L1342.00 305.45L1342.50 305.45L1343.00 305.44L1343.50 305.44L1344.00 305.44L1344.50 305.44L1345.00 305.44L1345.50 305.44L1346.00 305.44L1346.50 305.44L1347.00 305.44L1347.50 305.44L1348.00 305.44L1348.50 305.44L1349.00 305.44L1349.50 305.44L1350.00 305.44L1350.50 305.44L1351.00 305.44L1351.50 305.43L1352.00 305.43L1352.50 305.43L1353.00 305.43L1353.50 305.43L1354.00 305.43L1354.50 305.42L1355.00 305.42L1355.50 305.42L1356.00 305.42L1356.50 305.41L1357.00 305.41L1357.50 305.41L1358.00 305.41L1358.50 305.40L1359.00 305.40L1359.50 305.39L1360.00 305.39L1360.50 305.38L1361.00 305.38L1361.50 305.37L1362.00 305.36L1362.50 305.36L1363.00 305.35L1363.50 305.34L1364.00 305.32L1364.50 305.31L1365.00 305.29L1365.50 305.27L1366.00 305.25L1366.50 305.22L1367.00 305.19L1367.50 305.14L1368.00 305.08L1368.50 305.01L1369.00 304.93L1369.50 304.83L1370.00 304.70L1370.50 304.55L1371.00 304.38L1371.50 304.19L1372.00 303.98L1372.50 303.75L1373.00 303.50L1373.50 303.26L1374.00 303.02L1374.50 302.80L1375.00 302.63L1375.50 302.52L1376.00 302.48L1376.50 302.52L1377.00 302.63L1377.50 302.80L1378.00 303.02L1378.50 303.26L1379.00 303.50L1379.50 303.75L1380.00 303.98" fill="none" stroke="#ff0000" stroke-width="8" stroke-linejoin="round" stroke-linecap="butt" shape-rendering="crispEdges"/>
<path d="M128.00 555.48L128.50 555.47L129.00 555.46L129.50 555.44L130.00 555.43L130.50 555.42L131.00 555.41L131.50 555.40L132.00 555.39L132.50 555.37L133.00 555.36L133.50 555.35L134.00 555.34L134.50 555.33L135.00 555.31L135.50 555.30L136.00 555.29L136.50 555.28L137.00 555.27L137.50 555.25L138.00 555.24L138.50 555.23L139.00 555.22L139.50 555.21L140.00 555.19L140.50 555.18L141.00 555.17L141.50 555.16L142.00 555.15L142.50 555.13L143.00 555.12L143.50 555.11L144.00 555.10L144.50 555.08L145.00 555.07L145.50 555.06L146.00 555.05L146.50 555.03L147.00 555.02L147.50 555.01L148.00 554.99L148.50 554.98L149.00 554.97L149.50 554.95L150.00 554.94L150.50 554.93L151.00 554.91L151.50 554.90L152.00 554.88L152.50 554.87L153.00 554.86L153.50 554.84L154.00 554.83L154.50 554.81L155.00 554.79L155.50 554.78L156.00 554.76L156.50 554.74L157.00 554.73L157.50 554.71L158.00 554.69L158.50 554.67L159.00 554.65L159.50 554.63L160.00 554.61L160.50 554.58L161.00 554.56L161.50 554.53L162.00 554.51L162.50 554.47L163.00 554.44L163.50 554.41L164.00 554.37L164.50 554.32L165.00 554.27L165.50 554.21L166.00 554.14L166.50 554.04L167.00 553.91L167.50 553.73L168.00 553.48L168.50 553.11L169.00 552.59L169.50 551.87L170.00 550.95L170.50 549.79L171.00 548.45L171.50 546.98L172.00 545.54L172.50 544.33L173.00 543.58L173.30 543.45L173.50 543.50L174.00 544.10L174.50 545.22L175.00 546.61L175.50 548.06L176.00 549.41L176.50 550.58L177.00 551.53L177.50 552.26L178.00 552.80L178.50 553.17L179.00 553.42L179.50 553.59L180.00 553.71L180.50 553.79L181.00 553.86L181.50 553.91L182.00 553.95L182.50 553.99L183.00 554.01L183.50 554.04L184.00 554.06L184.50 554.08L185.00 554.10L185.50 554.11L186.00 554.12L186.50 554.14L187.00 554.15L187.50 554.16L188.00 554.16L188.50 554.17L189.00 554.18L189.50 554.19L190.00 554.19L190.50 554.20L191.00 554.20L191.50 554.21L192.00 554.21L192.50 554.21L193.00 554.22L193.50 554.22L194.00 554.22L194.50 554.23L195.00 554.23L195.50 554.23L196.00 554.23L196.50 554.24L197.00 554.24L197.50 554.24L198.00 554.24L198.50 554.24L199.00 554.25L199.50 554.25L200.00 554.25L200.50 554.25L201.00 554.25L201.50 554.25L202.00 554.25L202.50 554.25L203.00 554.25L203.50 554.26L204.00 554.26L204.50 554.26L205.00 554.26L205.50 554.26L206.00 554.26L206.50 554.26L207.00 554.26L207.50 554.26L208.00 554.26L208.50 554.26L209.00 554.26L209.50 554.26L210.00 554.26L210.50 554.26L211.00 554.27L211.50 554.27L212.00 554.27L212.50 554.27L213.00 554.27L213.50 554.27L214.00 554.27L214.50 554.27L215.00 554.27L215.50 554.27L216.00 554.27L216.50 554.27L217.00 554.27L217.50 554.27L218.00 554.27L218.50 554.27L219.00 554.27L219.50 554.27L220.00 554.27L220.50 554.27L221.00 554.27L221.50 554.27L222.00 554.27L222.50 554.27L223.00 554.27L223.50 554.27L224.00 554.27L224.50 554.27L225.00 554.27L225.50 554.27L226.00 554.27L226.50 554.27L227.00 554.27L227.50 554.27L228.00 554.27L228.50 554.27L229.00 554.27L229.50 554.27L230.00 554.27L230.50 554.27L231.00 554.27L231.50 554.27L232.00 554.27L232.50 554.27L233.00 554.27L233.50 554.27L234.00 554.27L234.50 554.27L235.00 554.27L235.50 554.27L236.00 554.27L236.50 554.27L237.00 554.27L237.50 554.27L238.00 554.27L238.50 554.27L239.00 554.27L239.50 554.27L240.00 554.27L240.50 554.27L241.00 554.27L241.50 554.27L242.00 554.27L242.50 554.27L243.00 554.27L243.50 554.27L244.00 554.27L244.50 554.27L245.00 554.27L245.50 554.27L246.00 554.27L246.50 554.27L247.00 554.27L247.50 554.27L248.00 554.27L248.50 554.27L249.00 554.27L249.50 554.27L250.00 554.27L250.50 554.29L251.00 554.30L251.50 554.32L252.00 554.34L252.50 554.35L253.00 554.37L253.50 554.39L254.00 554.40L254.50 554.42L255.00 554.44L255.50 554.45L256.00 554.47L256.50 554.49L257.00 554.50L257.50 554.52L258.00 554.54L258.50 554.56L259.00 554.57L259.50 554.59L260.00 554.61L260.50 554.62L261.00 554.64L261.50 554.66L262.00 554.67L262.50 554.69L263.00 554.71L263.50 554.72L264.00 554.74L264.50 554.76L265.00 554.77L265.50 554.79L266.00 554.81L266.50 554.82L267.00 554.84L267.50 554.86L268.00 554.87L268.50 554.89L269.00 554.91L269.50 554.92L270.00 554.94L270.50 554.96L271.00 554.97L271.50 554.99L272.00 555.01L272.50 555.02L273.00 555.04L273.50 555.06L274.00 555.07L274.50 555.09L275.00 555.11L275.50 555.12L276.00 555.14L276.50 555.16L277.00 555.17L277.50 555.19L278.00 555.21L278.50 555.22L279.00 555.24L279.50 555.26L280.00 555.27L280.50 555.29L281.00 555.30L281.50 555.32L282.00 555.34L282.50 555.35L283.00 555.37L283.50 555.39L284.00 555.40L284.50 555.42L285.00 555.44L285.50 555.45L286.00 555.47L286.50 555.49L287.00 555.50L287.50 555.52L288.00 555.53L288.50 555.55L289.00 555.57L289.50 555.58L290.00 555.60L290.50 555.62L291.00 555.63L291.50 555.65L292.00 555.66L292.50 555.68L293.00 555.70L293.50 555.71L294.00 555.73L294.50 555.75L295.00 555.76L295.50 555.78L296.00 555.79L296.50 555.81L297.00 555.83L297.50 555.84L298.00 555.86L298.50 555.87L299.00 555.89L299.50 555.91L300.00 555.92L300.50 555.93L301.00 555.94L301.50 555.95L302.00 555.96L302.50 555.97L303.00 555.98L303.50 555.99L304.00 556.00L304.50 556.01L305.00 556.02L305.50 556.03L306.00 556.04L306.50 556.05L307.00 556.06L307.50 556.07L308.00 556.08L308.50 556.09L309.00 556.10L309.50 556.11L310.00 556.12L310.50 556.13L311.00 556.14L311.50 556.15L312.00 556.16L312.50 556.17L313.00 556.18L313.50 556.19L314.00 556.19L314.50 556.20L315.00 556.21L315.50 556.22L316.00 556.23L316.50 556.24L317.00 556.25L317.50 556.25L318.00 556.26L318.50 556.27L319.00 556.28L319.50 556.29L320.00 556.29L320.50 556.30L321.00 556.31L321.50 556.32L322.00 556.32L322.50 556.33L323.00 556.34L323.50 556.34L324.00 556.35L324.50 556.35L325.00 556.36L325.50 556.37L326.00 556.37L326.50 556.38L327.00 556.38L327.50 556.38L328.00 556.39L328.50 556.39L329.00 556.39L329.50 556.40L330.00 556.40L330.50 556.40L331.00 556.40L331.50 556.39L332.00 556.39L332.50 556.39L333.00 556.38L333.50 556.37L334.00 556.36L334.50 556.35L335.00 556.33L335.50 556.33L336.00 556.33L336.50 556.32L337.00 556.30L337.50 556.28L338.00 556.26L338.50 556.23L339.00 556.19L339.50 556.15L340.00 556.10L340.50 556.05L341.00 555.99L341.50 555.92L342.00 555.85L342.50 555.76L343.00 555.68L343.50 555.58L344.00 555.49L344.50 555.39L345.00 555.28L345.50 555.18L346.00 555.08L346.50 554.98L347.00 554.88L347.50 554.80L348.00 554.72L348.50 554.66L349.00 554.62L349.50 554.59L350.00 554.58L350.50 554.59L351.00 554.63L351.50 554.68L352.00 554.74L352.50 554.82L353.00 554.91L353.50 555.00L354.00 555.10L354.50 555.19L355.00 555.29L355.50 555.38L356.00 555.46L356.50 555.53L357.00 555.59L357.50 555.64L358.00 555.68L358.50 555.70L359.00 555.70L359.50 555.68L360.00 555.64L360.50 555.57L361.00 555.47L361.50 555.35L362.00 555.18L362.50 554.97L363.00 554.69L363.50 554.32L364.00 553.81L364.50 553.06L365.00 551.87L365.50 549.91L366.00 546.67L366.50 541.35L367.00 532.98L367.50 520.43L368.00 502.74L368.50 479.47L369.00 451.14L369.50 419.53L370.00 387.84L370.50 360.51L371.00 342.58L371.40 337.85L371.50 338.16L372.00 348.39L372.50 370.74L373.00 400.48L373.50 432.67L374.00 463.34L374.50 489.85L375.00 510.96L375.50 526.57L376.00 537.39L376.50 544.48L377.00 548.94L377.50 551.66L378.00 553.34L378.50 554.41L379.00 555.14L379.50 555.67L380.00 556.09L380.50 556.44L381.00 556.73L381.50 556.99L382.00 557.22L382.50 557.42L383.00 557.61L383.50 557.77L384.00 557.92L384.50 558.06L385.00 558.18L385.50 558.30L386.00 558.40L386.50 558.50L387.00 558.59L387.50 558.68L388.00 558.76L388.50 558.84L389.00 558.91L389.50 558.98L390.00 559.05L390.50 559.11L391.00 559.17L391.50 559.23L392.00 559.29L392.50 559.33L393.00 559.38L393.50 559.42L394.00 559.46L394.50 559.50L395.00 559.53L395.50 559.57L396.00 559.61L396.50 559.64L397.00 559.67L397.50 559.71L398.00 559.74L398.50 559.77L399.00 559.80L399.50 559.83L400.00 559.86L400.50 559.89L401.00 559.91L401.50 559.94L402.00 559.97L402.50 560.00L403.00 560.02L403.50 560.05L404.00 560.07L404.50 560.10L405.00 560.12L405.50 560.15L406.00 560.17L406.50 560.20L407.00 560.22L407.50 560.24L408.00 560.27L408.50 560.29L409.00 560.31L409.50 560.34L410.00 560.36L410.50 560.38L411.00 560.40L411.50 560.43L412.00 560.45L412.50 560.47L413.00 560.49L413.50 560.51L414.00 560.53L414.50 560.56L415.00 560.58L415.50 560.60L416.00 560.62L416.50 560.64L417.00 560.66L417.50 560.68L418.00 560.70L418.50 560.72L419.00 560.74L419.50 560.76L420.00 560.78L420.50 560.80L421.00 560.82L421.50 560.84L422.00 560.86L422.50 560.88L423.00 560.90L423.50 560.92L424.00 560.94L424.50 560.96L425.00 560.98L425.50 561.00L426.00 561.02L426.50 561.04L427.00 561.06L427.50 561.08L428.00 561.10L428.50 561.12L429.00 561.14L429.50 561.16L430.00 561.18L430.50 561.20L431.00 561.22L431.50 561.24L432.00 561.26L432.50 561.27L433.00 561.29L433.50 561.31L434.00 561.33L434.50 561.35L435.00 561.37L435.50 561.39L436.00 561.41L436.50 561.43L437.00 561.45L437.50 561.46L438.00 561.48L438.50 561.50L439.00 561.52L439.50 561.54L440.00 561.56L440.50 561.58L441.00 561.60L441.50 561.61L442.00 561.63L442.50 561.65L443.00 561.67L443.50 561.69L444.00 561.71L444.50 561.73L445.00 561.74L445.50 561.76L446.00 561.78L446.50 561.80L447.00 561.82L447.50 561.84L448.00 561.86L448.50 561.87L449.00 561.89L449.50 561.91L450.00 561.93L450.50 561.93L451.00 561.93L451.50 561.93L452.00 561.94L452.50 561.94L453.00 561.94L453.50 561.94L454.00 561.94L454.50 561.94L455.00 561.95L455.50 561.95L456.00 561.95L456.50 561.95L457.00 561.95L457.50 561.95L458.00 561.96L458.50 561.96L459.00 561.96L459.50 561.96L460.00 561.96L460.50 561.96L461.00 561.96L461.50 561.97L462.00 561.97L462.50 561.97L463.00 561.97L463.50 561.97L464.00 561.97L464.50 561.97L465.00 561.97L465.50 561.98L466.00 561.98L466.50 561.98L467.00 561.98L467.50 561.98L468.00 561.98L468.50 561.98L469.00 561.98L469.50 561.98L470.00 561.99L470.50 561.99L471.00 561.99L471.50 561.99L472.00 561.99L472.50 561.99L473.00 561.99L473.50 561.99L474.00 561.99L474.50 561.99L475.00 562.00L475.50 562.00L476.00 562.00L476.50 562.00L477.00 562.00L477.50 562.00L478.00 562.00L478.50 562.00L479.00 562.00L479.50 562.00L480.00 562.00L480.50 562.00L481.00 562.00L481.50 562.00L482.00 562.00L482.50 562.01L483.00 562.01L483.50 562.01L484.00 562.01L484.50 562.01L485.00 562.01L485.50 562.01L486.00 562.01L486.50 562.01L487.00 562.01L487.50 562.01L488.00 562.01L488.50 562.01L489.00 562.00L489.50 562.00L490.00 562.00L490.50 562.00L491.00 562.00L491.50 562.00L492.00 562.00L492.50 562.00L493.00 562.00L493.50 562.00L494.00 562.00L494.50 561.99L495.00 561.99L495.50 561.99L496.00 561.99L496.50 561.99L497.00 561.98L497.50 561.98L498.00 561.98L498.50 561.97L499.00 561.97L499.50 561.97L500.00 561.96L500.50 561.96L501.00 561.95L501.50 561.95L502.00 561.94L502.50 561.94L503.00 561.93L503.50 561.92L504.00 561.92L504.50 561.91L505.00 561.90L505.50 561.89L506.00 561.88L506.50 561.87L507.00 561.86L507.50 561.84L508.00 561.83L508.50 561.81L509.00 561.79L509.50 561.78L510.00 561.75L510.50 561.73L511.00 561.71L511.50 561.68L512.00 561.65L512.50 561.61L513.00 561.57L513.50 561.53L514.00 561.48L514.50 561.42L515.00 561.35L515.50 561.27L516.00 561.17L516.50 561.05L517.00 560.88L517.50 560.66L518.00 560.35L518.50 559.92L519.00 559.33L519.50 558.53L520.00 557.46L520.50 556.06L521.00 554.29L521.50 552.12L522.00 549.55L522.50 546.63L523.00 543.45L523.50 540.16L524.00 536.96L524.50 534.12L525.00 531.94L525.50 530.70L525.80 530.48L526.00 530.58L526.50 531.61L527.00 533.63L527.50 536.37L528.00 539.52L528.50 542.81L529.00 546.03L529.50 549.02L530.00 551.66L530.50 553.91L531.00 555.76L531.50 557.24L532.00 558.37L532.50 559.23L533.00 559.86L533.50 560.31L534.00 560.65L534.50 560.89L535.00 561.07L535.50 561.21L536.00 561.31L536.50 561.40L537.00 561.47L537.50 561.53L538.00 561.59L538.50 561.63L539.00 561.68L539.50 561.72L540.00 561.75L540.50 561.78L541.00 561.81L541.50 561.84L542.00 561.86L542.50 561.88L543.00 561.90L543.50 561.92L544.00 561.94L544.50 561.96L545.00 561.97L545.50 561.99L546.00 562.00L546.50 562.01L547.00 562.02L547.50 562.03L548.00 562.04L548.50 562.05L549.00 562.06L549.50 562.07L550.00 562.08L550.50 562.09L551.00 562.10L551.50 562.10L552.00 562.11L552.50 562.12L553.00 562.12L553.50 562.13L554.00 562.13L554.50 562.14L555.00 562.15L555.50 562.15L556.00 562.16L556.50 562.16L557.00 562.16L557.50 562.17L558.00 562.17L558.50 562.18L559.00 562.18L559.50 562.19L560.00 562.19L560.50 562.19L561.00 562.20L561.50 562.20L562.00 562.20L562.50 562.21L563.00 562.21L563.50 562.21L564.00 562.22L564.50 562.22L565.00 562.22L565.50 562.22L566.00 562.23L566.50 562.23L567.00 562.23L567.50 562.23L568.00 562.24L568.50 562.24L569.00 562.24L569.50 562.24L570.00 562.25L570.50 562.25L571.00 562.25L571.50 562.25L572.00 562.26L572.50 562.26L573.00 562.26L573.50 562.26L574.00 562.26L574.50 562.27L575.00 562.27L575.50 562.27L576.00 562.27L576.50 562.27L577.00 562.27L577.50 562.28L578.00 562.28L578.50 562.28L579.00 562.28L579.50 562.28L580.00 562.28L580.50 562.29L581.00 562.29L581.50 562.29L582.00 562.29L582.50 562.29L583.00 562.29L583.50 562.30L584.00 562.30L584.50 562.30L585.00 562.30L585.50 562.30L586.00 562.30L586.50 562.30L587.00 562.31L587.50 562.31L588.00 562.31L588.50 562.31L589.00 562.31L589.50 562.31L590.00 562.31L590.50 562.31L591.00 562.31L591.50 562.32L592.00 562.32L592.50 562.32L593.00 562.32L593.50 562.32L594.00 562.32L594.50 562.32L595.00 562.32L595.50 562.32L596.00 562.32L596.50 562.33L597.00 562.33L597.50 562.33L598.00 562.33L598.50 562.33L599.00 562.33L599.50 562.33L600.00 562.33L600.50 562.33L601.00 562.33L601.50 562.33L602.00 562.33L602.50 562.33L603.00 562.33L603.50 562.33L604.00 562.33L604.50 562.34L605.00 562.34L605.50 562.34L606.00 562.34L606.50 562.34L607.00 562.34L607.50 562.34L608.00 562.34L608.50 562.34L609.00 562.34L609.50 562.34L610.00 562.34L610.50 562.34L611.00 562.34L611.50 562.34L612.00 562.34L612.50 562.33L613.00 562.33L613.50 562.33L614.00 562.33L614.50 562.33L615.00 562.33L615.50 562.33L616.00 562.33L616.50 562.33L617.00 562.33L617.50 562.33L618.00 562.32L618.50 562.32L619.00 562.32L619.50 562.32L620.00 562.32L620.50 562.32L621.00 562.31L621.50 562.31L622.00 562.31L622.50 562.31L623.00 562.30L623.50 562.30L624.00 562.30L624.50 562.30L625.00 562.29L625.50 562.29L626.00 562.28L626.50 562.28L627.00 562.28L627.50 562.27L628.00 562.27L628.50 562.26L629.00 562.26L629.50 562.25L630.00 562.24L630.50 562.24L631.00 562.23L631.50 562.22L632.00 562.21L632.50 562.21L633.00 562.20L633.50 562.19L634.00 562.18L634.50 562.16L635.00 562.15L635.50 562.14L636.00 562.13L636.50 562.11L637.00 562.10L637.50 562.08L638.00 562.06L638.50 562.04L639.00 562.02L639.50 562.00L640.00 561.98L640.50 561.95L641.00 561.92L641.50 561.89L642.00 561.86L642.50 561.83L643.00 561.79L643.50 561.74L644.00 561.70L644.50 561.65L645.00 561.59L645.50 561.53L646.00 561.46L646.50 561.39L647.00 561.30L647.50 561.21L648.00 561.10L648.50 560.98L649.00 560.83L649.50 560.65L650.00 560.42L650.50 560.14L651.00 559.76L651.50 559.24L652.00 558.55L652.50 557.60L653.00 556.32L653.50 554.61L654.00 552.37L654.50 549.51L655.00 545.96L655.50 541.68L656.00 536.68L656.50 531.06L657.00 524.99L657.50 518.73L658.00 512.65L658.50 507.20L659.00 502.90L659.50 500.25L659.90 499.57L660.00 499.61L660.50 501.08L661.00 504.45L661.50 509.28L662.00 515.04L662.50 521.25L663.00 527.47L663.50 533.40L664.00 538.79L664.50 543.51L665.00 547.50L665.50 550.77L666.00 553.37L666.50 555.39L667.00 556.92L667.50 558.06L668.00 558.90L668.50 559.52L669.00 559.97L669.50 560.32L670.00 560.58L670.50 560.78L671.00 560.95L671.50 561.09L672.00 561.21L672.50 561.32L673.00 561.41L673.50 561.50L674.00 561.57L674.50 561.64L675.00 561.70L675.50 561.76L676.00 561.81L676.50 561.86L677.00 561.90L677.50 561.94L678.00 561.98L678.50 562.01L679.00 562.04L679.50 562.07L680.00 562.10L680.50 562.13L681.00 562.15L681.50 562.17L682.00 562.19L682.50 562.21L683.00 562.23L683.50 562.25L684.00 562.27L684.50 562.28L685.00 562.30L685.50 562.31L686.00 562.33L686.50 562.34L687.00 562.35L687.50 562.36L688.00 562.38L688.50 562.39L689.00 562.40L689.50 562.41L690.00 562.42L690.50 562.42L691.00 562.43L691.50 562.44L692.00 562.45L692.50 562.46L693.00 562.46L693.50 562.47L694.00 562.48L694.50 562.48L695.00 562.49L695.50 562.50L696.00 562.50L696.50 562.51L697.00 562.51L697.50 562.52L698.00 562.53L698.50 562.53L699.00 562.54L699.50 562.54L700.00 562.55L700.50 562.55L701.00 562.55L701.50 562.55L702.00 562.56L702.50 562.56L703.00 562.56L703.50 562.56L704.00 562.57L704.50 562.57L705.00 562.57L705.50 562.57L706.00 562.58L706.50 562.58L707.00 562.58L707.50 562.58L708.00 562.58L708.50 562.59L709.00 562.59L709.50 562.59L710.00 562.59L710.50 562.59L711.00 562.59L711.50 562.59L712.00 562.60L712.50 562.60L713.00 562.60L713.50 562.60L714.00 562.60L714.50 562.60L715.00 562.60L715.50 562.60L716.00 562.60L716.50 562.61L717.00 562.61L717.50 562.61L718.00 562.61L718.50 562.61L719.00 562.61L719.50 562.61L720.00 562.61L720.50 562.61L721.00 562.61L721.50 562.61L722.00 562.61L722.50 562.61L723.00 562.61L723.50 562.62L724.00 562.62L724.50 562.62L725.00 562.62L725.50 562.62L726.00 562.62L726.50 562.62L727.00 562.62L727.50 562.62L728.00 562.62L728.50 562.62L729.00 562.62L729.50 562.62L730.00 562.62L730.50 562.62L731.00 562.62L731.50 562.62L732.00 562.62L732.50 562.62L733.00 562.62L733.50 562.62L734.00 562.62L734.50 562.62L735.00 562.62L735.50 562.62L736.00 562.62L736.50 562.62L737.00 562.62L737.50 562.62L738.00 562.62L738.50 562.62L739.00 562.62L739.50 562.62L740.00 562.62L740.50 562.62L741.00 562.62L741.50 562.62L742.00 562.62L742.50 562.62L743.00 562.62L743.50 562.62L744.00 562.61L744.50 562.61L745.00 562.61L745.50 562.61L746.00 562.61L746.50 562.61L747.00 562.61L747.50 562.61L748.00 562.61L748.50 562.61L749.00 562.61L749.50 562.60L750.00 562.60L750.50 562.60L751.00 562.60L751.50 562.60L752.00 562.60L752.50 562.60L753.00 562.59L753.50 562.59L754.00 562.59L754.50 562.59L755.00 562.59L755.50 562.58L756.00 562.58L756.50 562.58L757.00 562.57L757.50 562.57L758.00 562.57L758.50 562.56L759.00 562.56L759.50 562.56L760.00 562.55L760.50 562.55L761.00 562.54L761.50 562.54L762.00 562.53L762.50 562.52L763.00 562.52L763.50 562.51L764.00 562.50L764.50 562.49L765.00 562.48L765.50 562.47L766.00 562.46L766.50 562.45L767.00 562.43L767.50 562.41L768.00 562.39L768.50 562.37L769.00 562.34L769.50 562.31L770.00 562.27L770.50 562.22L771.00 562.15L771.50 562.07L772.00 561.97L772.50 561.84L773.00 561.67L773.50 561.47L774.00 561.22L774.50 560.92L775.00 560.57L775.50 560.16L776.00 559.70L776.50 559.20L777.00 558.66L777.50 558.10L778.00 557.55L778.50 557.03L779.00 556.57L779.50 556.22L780.00 556.00L780.40 555.95L780.50 555.95L781.00 556.07L781.50 556.34L782.00 556.74L782.50 557.23L783.00 557.77L783.50 558.32L784.00 558.88L784.50 559.40L785.00 559.89L785.50 560.33L786.00 560.71L786.50 561.04L787.00 561.32L787.50 561.55L788.00 561.74L788.50 561.89L789.00 562.01L789.50 562.10L790.00 562.18L790.50 562.24L791.00 562.28L791.50 562.32L792.00 562.35L792.50 562.38L793.00 562.40L793.50 562.42L794.00 562.43L794.50 562.45L795.00 562.46L795.50 562.47L796.00 562.48L796.50 562.49L797.00 562.50L797.50 562.51L798.00 562.51L798.50 562.52L799.00 562.53L799.50 562.53L800.00 562.54L800.50 562.54L801.00 562.55L801.50 562.55L802.00 562.55L802.50 562.56L803.00 562.56L803.50 562.56L804.00 562.57L804.50 562.57L805.00 562.57L805.50 562.57L806.00 562.58L806.50 562.58L807.00 562.58L807.50 562.58L808.00 562.58L808.50 562.58L809.00 562.59L809.50 562.59L810.00 562.59L810.50 562.59L811.00 562.59L811.50 562.59L812.00 562.59L812.50 562.59L813.00 562.59L813.50 562.59L814.00 562.60L814.50 562.60L815.00 562.60L815.50 562.60L816.00 562.60L816.50 562.60L817.00 562.60L817.50 562.60L818.00 562.60L818.50 562.60L819.00 562.60L819.50 562.60L820.00 562.60L820.50 562.60L821.00 562.60L821.50 562.60L822.00 562.60L822.50 562.60L823.00 562.60L823.50 562.60L824.00 562.60L824.50 562.60L825.00 562.60L825.50 562.60L826.00 562.60L826.50 562.60L827.00 562.60L827.50 562.60L828.00 562.60L828.50 562.59L829.00 562.59L829.50 562.59L830.00 562.59L830.50 562.59L831.00 562.59L831.50 562.59L832.00 562.59L832.50 562.59L833.00 562.59L833.50 562.59L834.00 562.59L834.50 562.59L835.00 562.58L835.50 562.58L836.00 562.58L836.50 562.58L837.00 562.58L837.50 562.58L838.00 562.58L838.50 562.58L839.00 562.58L839.50 562.57L840.00 562.57L840.50 562.57L841.00 562.57L841.50 562.57L842.00 562.57L842.50 562.57L843.00 562.56L843.50 562.56L844.00 562.56L844.50 562.56L845.00 562.56L845.50 562.55L846.00 562.55L846.50 562.55L847.00 562.55L847.50 562.54L848.00 562.54L848.50 562.54L849.00 562.54L849.50 562.53L850.00 562.53L850.50 562.53L851.00 562.52L851.50 562.52L852.00 562.52L852.50 562.51L853.00 562.51L853.50 562.51L854.00 562.50L854.50 562.50L855.00 562.49L855.50 562.49L856.00 562.49L856.50 562.48L857.00 562.48L857.50 562.47L858.00 562.46L858.50 562.46L859.00 562.45L859.50 562.45L860.00 562.44L860.50 562.43L861.00 562.43L861.50 562.42L862.00 562.41L862.50 562.40L863.00 562.39L863.50 562.38L864.00 562.37L864.50 562.36L865.00 562.35L865.50 562.34L866.00 562.33L866.50 562.32L867.00 562.30L867.50 562.29L868.00 562.27L868.50 562.25L869.00 562.24L869.50 562.22L870.00 562.20L870.50 562.18L871.00 562.15L871.50 562.13L872.00 562.10L872.50 562.07L873.00 562.04L873.50 562.01L874.00 561.97L874.50 561.94L875.00 561.89L875.50 561.85L876.00 561.80L876.50 561.74L877.00 561.68L877.50 561.62L878.00 561.54L878.50 561.46L879.00 561.37L879.50 561.26L880.00 561.14L880.50 561.00L881.00 560.82L881.50 560.59L882.00 560.31L882.50 559.93L883.00 559.44L883.50 558.77L884.00 557.88L884.50 556.69L885.00 555.15L885.50 553.16L886.00 550.66L886.50 547.59L887.00 543.93L887.50 539.69L888.00 534.92L888.50 529.75L889.00 524.37L889.50 519.03L890.00 514.07L890.50 509.87L891.00 506.83L891.50 505.30L891.70 505.16L892.00 505.47L892.50 507.33L893.00 510.63L893.50 515.01L894.00 520.08L894.50 525.45L895.00 530.80L895.50 535.91L896.00 540.58L896.50 544.71L897.00 548.25L897.50 551.20L898.00 553.59L898.50 555.49L899.00 556.96L899.50 558.07L900.00 558.92L900.50 559.55L901.00 560.02L901.50 560.37L902.00 560.64L902.50 560.85L903.00 561.03L903.50 561.17L904.00 561.28L904.50 561.39L905.00 561.48L905.50 561.56L906.00 561.63L906.50 561.69L907.00 561.75L907.50 561.81L908.00 561.86L908.50 561.90L909.00 561.94L909.50 561.98L910.00 562.02L910.50 562.05L911.00 562.08L911.50 562.11L912.00 562.13L912.50 562.16L913.00 562.18L913.50 562.20L914.00 562.22L914.50 562.24L915.00 562.25L915.50 562.27L916.00 562.29L916.50 562.30L917.00 562.31L917.50 562.33L918.00 562.34L918.50 562.35L919.00 562.36L919.50 562.37L920.00 562.38L920.50 562.39L921.00 562.40L921.50 562.41L922.00 562.42L922.50 562.42L923.00 562.43L923.50 562.44L924.00 562.44L924.50 562.45L925.00 562.46L925.50 562.46L926.00 562.47L926.50 562.47L927.00 562.48L927.50 562.48L928.00 562.49L928.50 562.49L929.00 562.50L929.50 562.50L930.00 562.50L930.50 562.51L931.00 562.51L931.50 562.52L932.00 562.52L932.50 562.52L933.00 562.52L933.50 562.53L934.00 562.53L934.50 562.53L935.00 562.54L935.50 562.54L936.00 562.54L936.50 562.54L937.00 562.55L937.50 562.55L938.00 562.55L938.50 562.55L939.00 562.55L939.50 562.56L940.00 562.56L940.50 562.56L941.00 562.56L941.50 562.56L942.00 562.57L942.50 562.57L943.00 562.57L943.50 562.57L944.00 562.57L944.50 562.57L945.00 562.57L945.50 562.58L946.00 562.58L946.50 562.58L947.00 562.58L947.50 562.58L948.00 562.58L948.50 562.58L949.00 562.58L949.50 562.59L950.00 562.59L950.50 562.59L951.00 562.59L951.50 562.59L952.00 562.59L952.50 562.59L953.00 562.59L953.50 562.59L954.00 562.59L954.50 562.59L955.00 562.60L955.50 562.60L956.00 562.60L956.50 562.60L957.00 562.60L957.50 562.60L958.00 562.60L958.50 562.60L959.00 562.60L959.50 562.60L960.00 562.60L960.50 562.60L961.00 562.60L961.50 562.60L962.00 562.60L962.50 562.61L963.00 562.61L963.50 562.61L964.00 562.61L964.50 562.61L965.00 562.61L965.50 562.61L966.00 562.61L966.50 562.61L967.00 562.61L967.50 562.61L968.00 562.61L968.50 562.61L969.00 562.61L969.50 562.61L970.00 562.61L970.50 562.61L971.00 562.61L971.50 562.61L972.00 562.61L972.50 562.61L973.00 562.61L973.50 562.61L974.00 562.61L974.50 562.61L975.00 562.61L975.50 562.62L976.00 562.62L976.50 562.62L977.00 562.62L977.50 562.62L978.00 562.62L978.50 562.62L979.00 562.62L979.50 562.62L980.00 562.62L980.50 562.62L981.00 562.62L981.50 562.62L982.00 562.62L982.50 562.62L983.00 562.62L983.50 562.62L984.00 562.62L984.50 562.62L985.00 562.62L985.50 562.62L986.00 562.62L986.50 562.62L987.00 562.62L987.50 562.62L988.00 562.62L988.50 562.62L989.00 562.62L989.50 562.62L990.00 562.62L990.50 562.62L991.00 562.62L991.50 562.62L992.00 562.62L992.50 562.62L993.00 562.62L993.50 562.62L994.00 562.62L994.50 562.62L995.00 562.62L995.50 562.62L996.00 562.62L996.50 562.62L997.00 562.62L997.50 562.62L998.00 562.62L998.50 562.62L999.00 562.62L999.50 562.62L1000.00 562.62L1000.50 562.62L1001.00 562.62L1001.50 562.62L1002.00 562.62L1002.50 562.62L1003.00 562.62L1003.50 562.62L1004.00 562.62L1004.50 562.62L1005.00 562.62L1005.50 562.62L1006.00 562.62L1006.50 562.62L1007.00 562.62L1007.50 562.62L1008.00 562.62L1008.50 562.62L1009.00 562.62L1009.50 562.62L1010.00 562.62L1010.50 562.62L1011.00 562.62L1011.50 562.62L1012.00 562.62L1012.50 562.62L1013.00 562.62L1013.50 562.62L1014.00 562.62L1014.50 562.62L1015.00 562.62L1015.50 562.62L1016.00 562.62L1016.50 562.62L1017.00 562.62L1017.50 562.62L1018.00 562.62L1018.50 562.62L1019.00 562.62L1019.50 562.62L1020.00 562.62L1020.50 562.62L1021.00 562.62L1021.50 562.62L1022.00 562.62L1022.50 562.62L1023.00 562.62L1023.50 562.62L1024.00 562.62L1024.50 562.62L1025.00 562.62L1025.50 562.62L1026.00 562.61L1026.50 562.61L1027.00 562.61L1027.50 562.61L1028.00 562.61L1028.50 562.61L1029.00 562.61L1029.50 562.61L1030.00 562.61L1030.50 562.61L1031.00 562.61L1031.50 562.61L1032.00 562.61L1032.50 562.61L1033.00 562.61L1033.50 562.61L1034.00 562.61L1034.50 562.61L1035.00 562.61L1035.50 562.61L1036.00 562.61L1036.50 562.61L1037.00 562.61L1037.50 562.61L1038.00 562.61L1038.50 562.61L1039.00 562.61L1039.50 562.60L1040.00 562.60L1040.50 562.60L1041.00 562.60L1041.50 562.60L1042.00 562.60L1042.50 562.60L1043.00 562.60L1043.50 562.60L1044.00 562.60L1044.50 562.60L1045.00 562.60L1045.50 562.60L1046.00 562.60L1046.50 562.60L1047.00 562.60L1047.50 562.59L1048.00 562.59L1048.50 562.59L1049.00 562.59L1049.50 562.59L1050.00 562.59L1050.50 562.59L1051.00 562.59L1051.50 562.59L1052.00 562.59L1052.50 562.58L1053.00 562.58L1053.50 562.58L1054.00 562.58L1054.50 562.58L1055.00 562.58L1055.50 562.58L1056.00 562.58L1056.50 562.57L1057.00 562.57L1057.50 562.57L1058.00 562.57L1058.50 562.57L1059.00 562.57L1059.50 562.56L1060.00 562.56L1060.50 562.56L1061.00 562.56L1061.50 562.56L1062.00 562.55L1062.50 562.55L1063.00 562.55L1063.50 562.55L1064.00 562.54L1064.50 562.54L1065.00 562.54L1065.50 562.53L1066.00 562.53L1066.50 562.53L1067.00 562.52L1067.50 562.52L1068.00 562.52L1068.50 562.51L1069.00 562.51L1069.50 562.50L1070.00 562.50L1070.50 562.49L1071.00 562.49L1071.50 562.48L1072.00 562.48L1072.50 562.47L1073.00 562.46L1073.50 562.45L1074.00 562.45L1074.50 562.44L1075.00 562.43L1075.50 562.42L1076.00 562.41L1076.50 562.40L1077.00 562.39L1077.50 562.38L1078.00 562.36L1078.50 562.35L1079.00 562.33L1079.50 562.32L1080.00 562.30L1080.50 562.28L1081.00 562.26L1081.50 562.23L1082.00 562.21L1082.50 562.18L1083.00 562.14L1083.50 562.11L1084.00 562.06L1084.50 562.01L1085.00 561.95L1085.50 561.87L1086.00 561.77L1086.50 561.65L1087.00 561.49L1087.50 561.28L1088.00 561.01L1088.50 560.66L1089.00 560.21L1089.50 559.65L1090.00 558.95L1090.50 558.09L1091.00 557.06L1091.50 555.87L1092.00 554.50L1092.50 552.98L1093.00 551.33L1093.50 549.61L1094.00 547.87L1094.50 546.19L1095.00 544.67L1095.50 543.41L1096.00 542.52L1096.50 542.07L1096.70 542.03L1097.00 542.12L1097.50 542.66L1098.00 543.64L1098.50 544.96L1099.00 546.52L1099.50 548.22L1100.00 549.96L1100.50 551.67L1101.00 553.29L1101.50 554.78L1102.00 556.12L1102.50 557.28L1103.00 558.27L1103.50 559.10L1104.00 559.77L1104.50 560.31L1105.00 560.74L1105.50 561.07L1106.00 561.33L1106.50 561.52L1107.00 561.67L1107.50 561.79L1108.00 561.88L1108.50 561.96L1109.00 562.02L1109.50 562.07L1110.00 562.11L1110.50 562.15L1111.00 562.18L1111.50 562.21L1112.00 562.23L1112.50 562.26L1113.00 562.28L1113.50 562.30L1114.00 562.32L1114.50 562.33L1115.00 562.35L1115.50 562.36L1116.00 562.37L1116.50 562.39L1117.00 562.40L1117.50 562.41L1118.00 562.42L1118.50 562.43L1119.00 562.44L1119.50 562.44L1120.00 562.45L1120.50 562.46L1121.00 562.47L1121.50 562.47L1122.00 562.48L1122.50 562.48L1123.00 562.49L1123.50 562.49L1124.00 562.50L1124.50 562.50L1125.00 562.51L1125.50 562.51L1126.00 562.51L1126.50 562.52L1127.00 562.52L1127.50 562.52L1128.00 562.53L1128.50 562.53L1129.00 562.53L1129.50 562.54L1130.00 562.54L1130.50 562.54L1131.00 562.54L1131.50 562.55L1132.00 562.55L1132.50 562.55L1133.00 562.55L1133.50 562.55L1134.00 562.56L1134.50 562.56L1135.00 562.56L1135.50 562.56L1136.00 562.56L1136.50 562.56L1137.00 562.57L1137.50 562.57L1138.00 562.57L1138.50 562.57L1139.00 562.57L1139.50 562.57L1140.00 562.57L1140.50 562.57L1141.00 562.57L1141.50 562.58L1142.00 562.58L1142.50 562.58L1143.00 562.58L1143.50 562.58L1144.00 562.58L1144.50 562.58L1145.00 562.58L1145.50 562.58L1146.00 562.58L1146.50 562.58L1147.00 562.59L1147.50 562.59L1148.00 562.59L1148.50 562.59L1149.00 562.59L1149.50 562.59L1150.00 562.59L1150.50 562.59L1151.00 562.59L1151.50 562.59L1152.00 562.59L1152.50 562.59L1153.00 562.59L1153.50 562.59L1154.00 562.59L1154.50 562.59L1155.00 562.59L1155.50 562.59L1156.00 562.59L1156.50 562.59L1157.00 562.59L1157.50 562.60L1158.00 562.60L1158.50 562.60L1159.00 562.60L1159.50 562.60L1160.00 562.60L1160.50 562.60L1161.00 562.60L1161.50 562.60L1162.00 562.60L1162.50 562.60L1163.00 562.60L1163.50 562.60L1164.00 562.60L1164.50 562.60L1165.00 562.60L1165.50 562.60L1166.00 562.60L1166.50 562.60L1167.00 562.60L1167.50 562.60L1168.00 562.60L1168.50 562.60L1169.00 562.60L1169.50 562.60L1170.00 562.60L1170.50 562.60L1171.00 562.60L1171.50 562.60L1172.00 562.60L1172.50 562.60L1173.00 562.60L1173.50 562.60L1174.00 562.60L1174.50 562.60L1175.00 562.60L1175.50 562.60L1176.00 562.60L1176.50 562.60L1177.00 562.60L1177.50 562.60L1178.00 562.60L1178.50 562.60L1179.00 562.60L1179.50 562.60L1180.00 562.60L1180.50 562.60L1181.00 562.60L1181.50 562.60L1182.00 562.60L1182.50 562.60L1183.00 562.60L1183.50 562.60L1184.00 562.60L1184.50 562.60L1185.00 562.60L1185.50 562.60L1186.00 562.60L1186.50 562.60L1187.00 562.60L1187.50 562.60L1188.00 562.60L1188.50 562.60L1189.00 562.60L1189.50 562.60L1190.00 562.60L1190.50 562.60L1191.00 562.60L1191.50 562.60L1192.00 562.60L1192.50 562.60L1193.00 562.60L1193.50 562.60L1194.00 562.60L1194.50 562.60L1195.00 562.60L1195.50 562.60L1196.00 562.60L1196.50 562.60L1197.00 562.60L1197.50 562.60L1198.00 562.60L1198.50 562.60L1199.00 562.60L1199.50 562.60L1200.00 562.60L1200.50 562.60L1201.00 562.60L1201.50 562.60L1202.00 562.60L1202.50 562.60L1203.00 562.60L1203.50 562.60L1204.00 562.60L1204.50 562.60L1205.00 562.60L1205.50 562.60L1206.00 562.60L1206.50 562.60L1207.00 562.60L1207.50 562.60L1208.00 562.60L1208.50 562.60L1209.00 562.60L1209.50 562.60L1210.00 562.60L1210.50 562.60L1211.00 562.60L1211.50 562.60L1212.00 562.60L1212.50 562.60L1213.00 562.60L1213.50 562.60L1214.00 562.60L1214.50 562.60L1215.00 562.60L1215.50 562.60L1216.00 562.60L1216.50 562.60L1217.00 562.59L1217.50 562.59L1218.00 562.59L1218.50 562.59L1219.00 562.59L1219.50 562.59L1220.00 562.59L1220.50 562.59L1221.00 562.59L1221.50 562.59L1222.00 562.59L1222.50 562.59L1223.00 562.59L1223.50 562.59L1224.00 562.59L1224.50 562.59L1225.00 562.59L1225.50 562.59L1226.00 562.59L1226.50 562.59L1227.00 562.59L1227.50 562.59L1228.00 562.59L1228.50 562.59L1229.00 562.59L1229.50 562.59L1230.00 562.59L1230.50 562.58L1231.00 562.58L1231.50 562.58L1232.00 562.58L1232.50 562.58L1233.00 562.58L1233.50 562.58L1234.00 562.58L1234.50 562.58L1235.00 562.58L1235.50 562.58L1236.00 562.58L1236.50 562.58L1237.00 562.58L1237.50 562.58L1238.00 562.58L1238.50 562.57L1239.00 562.57L1239.50 562.57L1240.00 562.57L1240.50 562.57L1241.00 562.57L1241.50 562.57L1242.00 562.57L1242.50 562.57L1243.00 562.57L1243.50 562.57L1244.00 562.56L1244.50 562.56L1245.00 562.56L1245.50 562.56L1246.00 562.56L1246.50 562.56L1247.00 562.56L1247.50 562.56L1248.00 562.55L1248.50 562.55L1249.00 562.55L1249.50 562.55L1250.00 562.55L1250.50 562.55L1251.00 562.54L1251.50 562.54L1252.00 562.54L1252.50 562.54L1253.00 562.54L1253.50 562.53L1254.00 562.53L1254.50 562.53L1255.00 562.53L1255.50 562.52L1256.00 562.52L1256.50 562.52L1257.00 562.52L1257.50 562.51L1258.00 562.51L1258.50 562.51L1259.00 562.50L1259.50 562.50L1260.00 562.49L1260.50 562.49L1261.00 562.49L1261.50 562.48L1262.00 562.48L1262.50 562.47L1263.00 562.46L1263.50 562.46L1264.00 562.45L1264.50 562.45L1265.00 562.44L1265.50 562.43L1266.00 562.42L1266.50 562.41L1267.00 562.40L1267.50 562.39L1268.00 562.38L1268.50 562.37L1269.00 562.36L1269.50 562.35L1270.00 562.33L1270.50 562.32L1271.00 562.30L1271.50 562.28L1272.00 562.26L1272.50 562.23L1273.00 562.21L1273.50 562.17L1274.00 562.14L1274.50 562.09L1275.00 562.04L1275.50 561.97L1276.00 561.88L1276.50 561.78L1277.00 561.64L1277.50 561.47L1278.00 561.26L1278.50 560.99L1279.00 560.66L1279.50 560.26L1280.00 559.77L1280.50 559.20L1281.00 558.53L1281.50 557.76L1282.00 556.90L1282.50 555.96L1283.00 554.94L1283.50 553.88L1284.00 552.79L1284.50 551.71L1285.00 550.69L1285.50 549.77L1286.00 549.01L1286.50 548.46L1287.00 548.16L1287.30 548.11L1287.50 548.13L1288.00 548.38L1288.50 548.88L1289.00 549.60L1289.50 550.49L1290.00 551.50L1290.50 552.57L1291.00 553.66L1291.50 554.73L1292.00 555.76L1292.50 556.72L1293.00 557.60L1293.50 558.38L1294.00 559.07L1294.50 559.66L1295.00 560.16L1295.50 560.58L1296.00 560.92L1296.50 561.20L1297.00 561.43L1297.50 561.61L1298.00 561.75L1298.50 561.86L1299.00 561.95L1299.50 562.02L1300.00 562.08L1300.50 562.12L1301.00 562.16L1301.50 562.20L1302.00 562.22L1302.50 562.25L1303.00 562.27L1303.50 562.29L1304.00 562.31L1304.50 562.32L1305.00 562.34L1305.50 562.35L1306.00 562.36L1306.50 562.38L1307.00 562.39L1307.50 562.40L1308.00 562.40L1308.50 562.41L1309.00 562.42L1309.50 562.43L1310.00 562.44L1310.50 562.44L1311.00 562.45L1311.50 562.45L1312.00 562.46L1312.50 562.47L1313.00 562.47L1313.50 562.48L1314.00 562.48L1314.50 562.48L1315.00 562.49L1315.50 562.49L1316.00 562.49L1316.50 562.50L1317.00 562.50L1317.50 562.50L1318.00 562.51L1318.50 562.51L1319.00 562.51L1319.50 562.51L1320.00 562.52L1320.50 562.52L1321.00 562.52L1321.50 562.52L1322.00 562.53L1322.50 562.53L1323.00 562.53L1323.50 562.53L1324.00 562.53L1324.50 562.53L1325.00 562.53L1325.50 562.54L1326.00 562.54L1326.50 562.54L1327.00 562.54L1327.50 562.54L1328.00 562.54L1328.50 562.54L1329.00 562.54L1329.50 562.55L1330.00 562.55L1330.50 562.55L1331.00 562.55L1331.50 562.55L1332.00 562.55L1332.50 562.55L1333.00 562.55L1333.50 562.55L1334.00 562.55L1334.50 562.55L1335.00 562.55L1335.50 562.55L1336.00 562.55L1336.50 562.55L1337.00 562.55L1337.50 562.55L1338.00 562.55L1338.50 562.56L1339.00 562.56L1339.50 562.56L1340.00 562.56L1340.50 562.56L1341.00 562.56L1341.50 562.56L1342.00 562.56L1342.50 562.56L1343.00 562.56L1343.50 562.56L1344.00 562.56L1344.50 562.56L1345.00 562.56L1345.50 562.56L1346.00 562.56L1346.50 562.56L1347.00 562.55L1347.50 562.55L1348.00 562.55L1348.50 562.55L1349.00 562.55L1349.50 562.55L1350.00 562.55L1350.50 562.55L1351.00 562.55L1351.50 562.55L1352.00 562.55L1352.50 562.55L1353.00 562.55L1353.50 562.55L1354.00 562.55L1354.50 562.54L1355.00 562.54L1355.50 562.54L1356.00 562.54L1356.50 562.54L1357.00 562.54L1357.50 562.54L1358.00 562.53L1358.50 562.53L1359.00 562.53L1359.50 562.53L1360.00 562.53L1360.50 562.52L1361.00 562.52L1361.50 562.52L1362.00 562.51L1362.50 562.51L1363.00 562.51L1363.50 562.50L1364.00 562.50L1364.50 562.49L1365.00 562.48L1365.50 562.48L1366.00 562.47L1366.50 562.46L1367.00 562.45L1367.50 562.44L1368.00 562.43L1368.50 562.42L1369.00 562.40L1369.50 562.38L1370.00 562.36L1370.50 562.33L1371.00 562.29L1371.50 562.25L1372.00 562.19L1372.50 562.12L1373.00 562.04L1373.50 561.93L1374.00 561.81L1374.50 561.66L1375.00 561.49L1375.50 561.30L1376.00 561.09L1376.50 560.85L1377.00 560.61L1377.50 560.36L1378.00 560.13L1378.50 559.91L1379.00 559.74L1379.50 559.63L1380.00 559.59" fill="none" stroke="#00ae64" stroke-width="8" stroke-linejoin="round" stroke-linecap="butt" shape-rendering="crispEdges"/>
<path d="M128.00 810.89L128.50 810.89L129.00 810.89L129.50 810.89L130.00 810.89L130.50 810.89L131.00 810.89L131.50 810.89L132.00 810.89L132.50 810.89L133.00 810.89L133.50 810.89L134.00 810.89L134.50 810.89L135.00 810.89L135.50 810.89L136.00 810.89L136.50 810.89L137.00 810.89L137.50 810.89L138.00 810.89L138.50 810.89L139.00 810.89L139.50 810.89L140.00 810.89L140.50 810.89L141.00 810.89L141.50 810.89L142.00 810.89L142.50 810.89L143.00 810.88L143.50 810.88L144.00 810.88L144.50 810.88L145.00 810.88L145.50 810.88L146.00 810.88L146.50 810.88L147.00 810.88L147.50 810.88L148.00 810.88L148.50 810.88L149.00 810.88L149.50 810.88L150.00 810.88L150.50 810.88L151.00 810.88L151.50 810.88L152.00 810.88L152.50 810.88L153.00 810.87L153.50 810.87L154.00 810.87L154.50 810.87L155.00 810.87L155.50 810.87L156.00 810.87L156.50 810.87L157.00 810.87L157.50 810.86L158.00 810.86L158.50 810.86L159.00 810.86L159.50 810.85L160.00 810.85L160.50 810.85L161.00 810.85L161.50 810.84L162.00 810.84L162.50 810.83L163.00 810.83L163.50 810.82L164.00 810.81L164.50 810.80L165.00 810.79L165.50 810.80L166.00 810.81L166.50 810.81L167.00 810.81L167.50 810.79L168.00 810.75L168.50 810.65L169.00 810.42L169.50 809.95L170.00 809.06L170.50 807.55L171.00 805.24L171.50 802.10L172.00 798.38L172.50 794.64L173.00 791.66L173.50 790.27L173.60 790.24L174.00 790.91L174.50 793.38L175.00 796.96L175.50 800.81L176.00 804.27L176.50 806.96L177.00 808.82L177.50 809.97L178.00 810.62L178.50 810.97L179.00 811.15L179.50 811.25L180.00 811.31L180.50 811.34L181.00 811.36L181.50 811.38L182.00 811.39L182.50 811.40L183.00 811.41L183.50 811.42L184.00 811.42L184.50 811.43L185.00 811.43L185.50 811.44L186.00 811.44L186.50 811.45L187.00 811.45L187.50 811.45L188.00 811.45L188.50 811.46L189.00 811.46L189.50 811.46L190.00 811.46L190.50 811.46L191.00 811.46L191.50 811.47L192.00 811.47L192.50 811.47L193.00 811.47L193.50 811.47L194.00 811.47L194.50 811.47L195.00 811.47L195.50 811.47L196.00 811.47L196.50 811.47L197.00 811.48L197.50 811.48L198.00 811.48L198.50 811.48L199.00 811.48L199.50 811.48L200.00 811.48L200.50 811.48L201.00 811.48L201.50 811.48L202.00 811.48L202.50 811.48L203.00 811.48L203.50 811.48L204.00 811.48L204.50 811.48L205.00 811.48L205.50 811.48L206.00 811.48L206.50 811.48L207.00 811.48L207.50 811.48L208.00 811.48L208.50 811.48L209.00 811.48L209.50 811.48L210.00 811.48L210.50 811.48L211.00 811.48L211.50 811.48L212.00 811.48L212.50 811.48L213.00 811.48L213.50 811.48L214.00 811.48L214.50 811.48L215.00 811.48L215.50 811.48L216.00 811.48L216.50 811.48L217.00 811.48L217.50 811.48L218.00 811.48L218.50 811.48L219.00 811.48L219.50 811.48L220.00 811.48L220.50 811.48L221.00 811.48L221.50 811.48L222.00 811.48L222.50 811.48L223.00 811.48L223.50 811.48L224.00 811.48L224.50 811.48L225.00 811.48L225.50 811.48L226.00 811.48L226.50 811.48L227.00 811.48L227.50 811.48L228.00 811.48L228.50 811.48L229.00 811.48L229.50 811.48L230.00 811.48L230.50 811.48L231.00 811.48L231.50 811.48L232.00 811.48L232.50 811.48L233.00 811.48L233.50 811.48L234.00 811.48L234.50 811.48L235.00 811.48L235.50 811.48L236.00 811.48L236.50 811.48L237.00 811.48L237.50 811.48L238.00 811.48L238.50 811.48L239.00 811.48L239.50 811.48L240.00 811.48L240.50 811.48L241.00 811.48L241.50 811.48L242.00 811.48L242.50 811.48L243.00 811.48L243.50 811.48L244.00 811.48L244.50 811.48L245.00 811.48L245.50 811.48L246.00 811.48L246.50 811.48L247.00 811.48L247.50 811.48L248.00 811.48L248.50 811.48L249.00 811.48L249.50 811.48L250.00 811.48L250.50 811.48L251.00 811.48L251.50 811.48L252.00 811.48L252.50 811.48L253.00 811.48L253.50 811.48L254.00 811.48L254.50 811.48L255.00 811.47L255.50 811.47L256.00 811.47L256.50 811.47L257.00 811.47L257.50 811.47L258.00 811.47L258.50 811.47L259.00 811.47L259.50 811.47L260.00 811.47L260.50 811.47L261.00 811.47L261.50 811.47L262.00 811.47L262.50 811.47L263.00 811.47L263.50 811.47L264.00 811.47L264.50 811.47L265.00 811.47L265.50 811.47L266.00 811.47L266.50 811.47L267.00 811.47L267.50 811.47L268.00 811.47L268.50 811.47L269.00 811.47L269.50 811.47L270.00 811.47L270.50 811.47L271.00 811.47L271.50 811.47L272.00 811.47L272.50 811.46L273.00 811.46L273.50 811.46L274.00 811.46L274.50 811.46L275.00 811.46L275.50 811.46L276.00 811.46L276.50 811.46L277.00 811.46L277.50 811.46L278.00 811.46L278.50 811.46L279.00 811.46L279.50 811.46L280.00 811.46L280.50 811.63L281.00 811.80L281.50 811.96L282.00 812.13L282.50 812.30L283.00 812.47L283.50 812.64L284.00 812.81L284.50 812.98L285.00 813.15L285.50 813.15L286.00 813.15L286.50 813.15L287.00 813.14L287.50 813.14L288.00 813.14L288.50 813.14L289.00 813.14L289.50 813.14L290.00 813.14L290.50 813.13L291.00 813.13L291.50 813.13L292.00 813.13L292.50 813.13L293.00 813.12L293.50 813.12L294.00 813.12L294.50 813.11L295.00 813.11L295.50 813.10L296.00 813.10L296.50 813.09L297.00 813.09L297.50 813.08L298.00 813.07L298.50 813.06L299.00 813.05L299.50 813.03L300.00 813.01L300.50 812.99L301.00 812.95L301.50 812.90L302.00 812.84L302.50 812.76L303.00 812.65L303.50 812.53L304.00 812.39L304.50 812.23L305.00 812.07L305.50 811.91L306.00 811.77L306.50 811.67L307.00 811.64L307.50 811.67L308.00 811.76L308.50 811.90L309.00 812.06L309.50 812.23L310.00 812.38L310.50 812.52L311.00 812.64L311.50 812.74L312.00 812.82L312.50 812.88L313.00 812.93L313.50 812.96L314.00 812.99L314.50 813.01L315.00 813.02L315.50 813.03L316.00 813.04L316.50 813.05L317.00 813.05L317.50 813.05L318.00 813.06L318.50 813.06L319.00 813.06L319.50 813.06L320.00 813.06L320.50 813.07L321.00 813.07L321.50 813.07L322.00 813.07L322.50 813.07L323.00 813.07L323.50 813.06L324.00 813.06L324.50 813.06L325.00 813.06L325.50 813.06L326.00 813.06L326.50 813.06L327.00 813.05L327.50 813.05L328.00 813.05L328.50 813.05L329.00 813.05L329.50 813.04L330.00 813.04L330.50 813.04L331.00 813.03L331.50 813.03L332.00 813.03L332.50 813.02L333.00 813.02L333.50 813.02L334.00 813.01L334.50 813.01L335.00 813.00L335.50 813.00L336.00 812.99L336.50 812.99L337.00 812.98L337.50 812.98L338.00 812.97L338.50 812.97L339.00 812.96L339.50 812.95L340.00 812.94L340.50 812.94L341.00 812.93L341.50 812.93L342.00 812.92L342.50 812.92L343.00 812.91L343.50 812.90L344.00 812.90L344.50 812.89L345.00 812.88L345.50 812.87L346.00 812.86L346.50 812.85L347.00 812.83L347.50 812.82L348.00 812.81L348.50 812.79L349.00 812.77L349.50 812.76L350.00 812.74L350.50 812.72L351.00 812.69L351.50 812.67L352.00 812.64L352.50 812.61L353.00 812.58L353.50 812.55L354.00 812.51L354.50 812.47L355.00 812.42L355.50 812.37L356.00 812.32L356.50 812.26L357.00 812.19L357.50 812.12L358.00 812.04L358.50 811.95L359.00 811.85L359.50 811.73L360.00 811.61L360.50 811.46L361.00 811.30L361.50 811.11L362.00 810.89L362.50 810.64L363.00 810.34L363.50 809.98L364.00 809.52L364.50 808.91L365.00 808.02L365.50 806.65L366.00 804.40L366.50 800.72L367.00 794.75L367.50 785.45L368.00 771.70L368.50 752.59L369.00 727.83L369.50 698.19L370.00 665.75L370.50 634.05L371.00 607.78L371.50 592.02L371.80 589.29L372.00 590.51L372.50 603.64L373.00 628.21L373.50 659.24L374.00 691.86L374.50 722.28L375.00 748.12L375.50 768.37L376.00 783.14L376.50 793.25L377.00 799.80L377.50 803.88L378.00 806.36L378.50 807.88L379.00 808.85L379.50 809.51L380.00 810.00L380.50 810.38L381.00 810.70L381.50 810.96L382.00 811.19L382.50 811.39L383.00 811.57L383.50 811.72L384.00 811.86L384.50 811.98L385.00 812.09L385.50 812.19L386.00 812.28L386.50 812.36L387.00 812.44L387.50 812.50L388.00 812.57L388.50 812.62L389.00 812.67L389.50 812.72L390.00 812.77L390.50 812.81L391.00 812.85L391.50 812.88L392.00 812.92L392.50 812.95L393.00 812.98L393.50 813.00L394.00 813.03L394.50 813.05L395.00 813.08L395.50 813.10L396.00 813.12L396.50 813.14L397.00 813.16L397.50 813.18L398.00 813.19L398.50 813.21L399.00 813.23L399.50 813.24L400.00 813.25L400.50 813.27L401.00 813.28L401.50 813.29L402.00 813.31L402.50 813.32L403.00 813.33L403.50 813.34L404.00 813.35L404.50 813.36L405.00 813.37L405.50 813.38L406.00 813.39L406.50 813.40L407.00 813.41L407.50 813.42L408.00 813.42L408.50 813.43L409.00 813.44L409.50 813.45L410.00 813.46L410.50 813.46L411.00 813.47L411.50 813.48L412.00 813.48L412.50 813.49L413.00 813.50L413.50 813.50L414.00 813.51L414.50 813.52L415.00 813.52L415.50 813.53L416.00 813.54L416.50 813.54L417.00 813.55L417.50 813.55L418.00 813.56L418.50 813.56L419.00 813.57L419.50 813.57L420.00 813.58L420.50 813.58L421.00 813.58L421.50 813.59L422.00 813.59L422.50 813.59L423.00 813.59L423.50 813.60L424.00 813.60L424.50 813.60L425.00 813.60L425.50 813.60L426.00 813.61L426.50 813.61L427.00 813.61L427.50 813.61L428.00 813.61L428.50 813.62L429.00 813.62L429.50 813.62L430.00 813.62L430.50 813.62L431.00 813.62L431.50 813.63L432.00 813.63L432.50 813.63L433.00 813.63L433.50 813.63L434.00 813.63L434.50 813.64L435.00 813.64L435.50 813.64L436.00 813.64L436.50 813.64L437.00 813.64L437.50 813.64L438.00 813.64L438.50 813.65L439.00 813.65L439.50 813.65L440.00 813.65L440.50 813.65L441.00 813.65L441.50 813.65L442.00 813.65L442.50 813.65L443.00 813.66L443.50 813.66L444.00 813.66L444.50 813.66L445.00 813.66L445.50 813.66L446.00 813.66L446.50 813.66L447.00 813.66L447.50 813.66L448.00 813.67L448.50 813.67L449.00 813.67L449.50 813.67L450.00 813.67L450.50 813.67L451.00 813.67L451.50 813.67L452.00 813.67L452.50 813.67L453.00 813.67L453.50 813.67L454.00 813.67L454.50 813.68L455.00 813.68L455.50 813.68L456.00 813.68L456.50 813.68L457.00 813.68L457.50 813.68L458.00 813.68L458.50 813.68L459.00 813.68L459.50 813.68L460.00 813.68L460.50 813.68L461.00 813.68L461.50 813.68L462.00 813.68L462.50 813.68L463.00 813.69L463.50 813.69L464.00 813.69L464.50 813.69L465.00 813.69L465.50 813.69L466.00 813.69L466.50 813.69L467.00 813.69L467.50 813.69L468.00 813.69L468.50 813.69L469.00 813.69L469.50 813.69L470.00 813.69L470.50 813.69L471.00 813.69L471.50 813.69L472.00 813.69L472.50 813.69L473.00 813.69L473.50 813.69L474.00 813.69L474.50 813.69L475.00 813.69L475.50 813.69L476.00 813.69L476.50 813.69L477.00 813.69L477.50 813.69L478.00 813.69L478.50 813.69L479.00 813.69L479.50 813.69L480.00 813.69L480.50 813.69L481.00 813.69L481.50 813.69L482.00 813.69L482.50 813.69L483.00 813.69L483.50 813.69L484.00 813.69L484.50 813.69L485.00 813.69L485.50 813.69L486.00 813.68L486.50 813.68L487.00 813.68L487.50 813.68L488.00 813.68L488.50 813.68L489.00 813.68L489.50 813.68L490.00 813.68L490.50 813.68L491.00 813.67L491.50 813.67L492.00 813.67L492.50 813.67L493.00 813.67L493.50 813.67L494.00 813.66L494.50 813.66L495.00 813.66L495.50 813.66L496.00 813.65L496.50 813.65L497.00 813.65L497.50 813.65L498.00 813.64L498.50 813.64L499.00 813.64L499.50 813.63L500.00 813.63L500.50 813.62L501.00 813.62L501.50 813.61L502.00 813.61L502.50 813.60L503.00 813.60L503.50 813.59L504.00 813.58L504.50 813.58L505.00 813.57L505.50 813.56L506.00 813.55L506.50 813.54L507.00 813.53L507.50 813.52L508.00 813.51L508.50 813.50L509.00 813.48L509.50 813.47L510.00 813.45L510.50 813.43L511.00 813.41L511.50 813.39L512.00 813.37L512.50 813.34L513.00 813.31L513.50 813.28L514.00 813.25L514.50 813.21L515.00 813.16L515.50 813.11L516.00 813.05L516.50 812.98L517.00 812.89L517.50 812.78L518.00 812.64L518.50 812.45L519.00 812.20L519.50 811.85L520.00 811.39L520.50 810.77L521.00 809.96L521.50 808.92L522.00 807.60L522.50 806.00L523.00 804.08L523.50 801.88L524.00 799.43L524.50 796.81L525.00 794.14L525.50 791.56L526.00 789.27L526.50 787.48L527.00 786.37L527.40 786.09L527.50 786.11L528.00 786.72L528.50 788.12L529.00 790.14L529.50 792.58L530.00 795.21L530.50 797.88L531.00 800.44L531.50 802.80L532.00 804.89L532.50 806.69L533.00 808.18L533.50 809.38L534.00 810.33L534.50 811.06L535.00 811.61L535.50 812.02L536.00 812.32L536.50 812.55L537.00 812.72L537.50 812.85L538.00 812.95L538.50 813.03L539.00 813.10L539.50 813.16L540.00 813.21L540.50 813.25L541.00 813.29L541.50 813.32L542.00 813.35L542.50 813.38L543.00 813.41L543.50 813.43L544.00 813.45L544.50 813.47L545.00 813.49L545.50 813.51L546.00 813.53L546.50 813.54L547.00 813.55L547.50 813.57L548.00 813.58L548.50 813.59L549.00 813.60L549.50 813.61L550.00 813.62L550.50 813.63L551.00 813.64L551.50 813.64L552.00 813.65L552.50 813.66L553.00 813.66L553.50 813.67L554.00 813.68L554.50 813.68L555.00 813.69L555.50 813.69L556.00 813.70L556.50 813.70L557.00 813.71L557.50 813.71L558.00 813.71L558.50 813.72L559.00 813.72L559.50 813.72L560.00 813.73L560.50 813.73L561.00 813.73L561.50 813.74L562.00 813.74L562.50 813.74L563.00 813.75L563.50 813.75L564.00 813.75L564.50 813.75L565.00 813.75L565.50 813.76L566.00 813.76L566.50 813.76L567.00 813.76L567.50 813.76L568.00 813.77L568.50 813.77L569.00 813.77L569.50 813.77L570.00 813.77L570.50 813.78L571.00 813.78L571.50 813.78L572.00 813.78L572.50 813.78L573.00 813.78L573.50 813.78L574.00 813.79L574.50 813.79L575.00 813.79L575.50 813.79L576.00 813.79L576.50 813.79L577.00 813.79L577.50 813.79L578.00 813.79L578.50 813.80L579.00 813.80L579.50 813.80L580.00 813.80L580.50 813.80L581.00 813.80L581.50 813.80L582.00 813.80L582.50 813.80L583.00 813.80L583.50 813.80L584.00 813.80L584.50 813.81L585.00 813.81L585.50 813.81L586.00 813.81L586.50 813.81L587.00 813.81L587.50 813.81L588.00 813.81L588.50 813.81L589.00 813.81L589.50 813.81L590.00 813.81L590.50 813.81L591.00 813.81L591.50 813.81L592.00 813.81L592.50 813.81L593.00 813.81L593.50 813.81L594.00 813.82L594.50 813.82L595.00 813.82L595.50 813.82L596.00 813.82L596.50 813.82L597.00 813.82L597.50 813.82L598.00 813.82L598.50 813.82L599.00 813.82L599.50 813.82L600.00 813.82L600.50 813.82L601.00 813.82L601.50 813.82L602.00 813.82L602.50 813.82L603.00 813.82L603.50 813.82L604.00 813.82L604.50 813.82L605.00 813.82L605.50 813.82L606.00 813.82L606.50 813.82L607.00 813.82L607.50 813.81L608.00 813.81L608.50 813.81L609.00 813.81L609.50 813.81L610.00 813.81L610.50 813.81L611.00 813.81L611.50 813.81L612.00 813.81L612.50 813.81L613.00 813.81L613.50 813.81L614.00 813.81L614.50 813.81L615.00 813.80L615.50 813.80L616.00 813.80L616.50 813.80L617.00 813.80L617.50 813.80L618.00 813.80L618.50 813.79L619.00 813.79L619.50 813.79L620.00 813.79L620.50 813.79L621.00 813.79L621.50 813.78L622.00 813.78L622.50 813.78L623.00 813.78L623.50 813.77L624.00 813.77L624.50 813.77L625.00 813.77L625.50 813.76L626.00 813.76L626.50 813.76L627.00 813.75L627.50 813.75L628.00 813.74L628.50 813.74L629.00 813.74L629.50 813.73L630.00 813.73L630.50 813.72L631.00 813.72L631.50 813.71L632.00 813.70L632.50 813.70L633.00 813.69L633.50 813.68L634.00 813.67L634.50 813.67L635.00 813.66L635.50 813.65L636.00 813.64L636.50 813.63L637.00 813.62L637.50 813.61L638.00 813.59L638.50 813.58L639.00 813.56L639.50 813.55L640.00 813.53L640.50 813.51L641.00 813.50L641.50 813.47L642.00 813.45L642.50 813.43L643.00 813.40L643.50 813.37L644.00 813.34L644.50 813.31L645.00 813.27L645.50 813.23L646.00 813.19L646.50 813.14L647.00 813.09L647.50 813.03L648.00 812.96L648.50 812.89L649.00 812.80L649.50 812.70L650.00 812.57L650.50 812.42L651.00 812.23L651.50 811.98L652.00 811.66L652.50 811.22L653.00 810.63L653.50 809.85L654.00 808.82L654.50 807.48L655.00 805.77L655.50 803.64L656.00 801.05L656.50 798.00L657.00 794.51L657.50 790.64L658.00 786.51L658.50 782.28L659.00 778.19L659.50 774.51L660.00 771.55L660.50 769.61L661.00 768.94L661.50 769.62L662.00 771.55L662.50 774.51L663.00 778.19L663.50 782.29L664.00 786.51L664.50 790.65L665.00 794.52L665.50 798.01L666.00 801.07L666.50 803.65L667.00 805.78L667.50 807.49L668.00 808.83L668.50 809.87L669.00 810.65L669.50 811.24L670.00 811.67L670.50 812.00L671.00 812.25L671.50 812.45L672.00 812.60L672.50 812.72L673.00 812.82L673.50 812.91L674.00 812.99L674.50 813.06L675.00 813.12L675.50 813.17L676.00 813.22L676.50 813.27L677.00 813.31L677.50 813.34L678.00 813.38L678.50 813.41L679.00 813.44L679.50 813.47L680.00 813.49L680.50 813.52L681.00 813.54L681.50 813.56L682.00 813.58L682.50 813.60L683.00 813.61L683.50 813.63L684.00 813.64L684.50 813.66L685.00 813.67L685.50 813.68L686.00 813.69L686.50 813.70L687.00 813.71L687.50 813.72L688.00 813.73L688.50 813.74L689.00 813.75L689.50 813.76L690.00 813.77L690.50 813.77L691.00 813.78L691.50 813.79L692.00 813.79L692.50 813.80L693.00 813.80L693.50 813.81L694.00 813.82L694.50 813.82L695.00 813.83L695.50 813.83L696.00 813.83L696.50 813.84L697.00 813.84L697.50 813.85L698.00 813.85L698.50 813.85L699.00 813.86L699.50 813.86L700.00 813.87L700.50 813.87L701.00 813.87L701.50 813.87L702.00 813.88L702.50 813.88L703.00 813.88L703.50 813.88L704.00 813.88L704.50 813.89L705.00 813.89L705.50 813.89L706.00 813.89L706.50 813.89L707.00 813.90L707.50 813.90L708.00 813.90L708.50 813.90L709.00 813.90L709.50 813.90L710.00 813.90L710.50 813.91L711.00 813.91L711.50 813.91L712.00 813.91L712.50 813.91L713.00 813.91L713.50 813.91L714.00 813.91L714.50 813.91L715.00 813.92L715.50 813.92L716.00 813.92L716.50 813.92L717.00 813.92L717.50 813.92L718.00 813.92L718.50 813.92L719.00 813.92L719.50 813.92L720.00 813.92L720.50 813.92L721.00 813.92L721.50 813.92L722.00 813.92L722.50 813.92L723.00 813.93L723.50 813.93L724.00 813.93L724.50 813.93L725.00 813.93L725.50 813.93L726.00 813.93L726.50 813.93L727.00 813.93L727.50 813.93L728.00 813.93L728.50 813.93L729.00 813.93L729.50 813.93L730.00 813.93L730.50 813.93L731.00 813.93L731.50 813.93L732.00 813.93L732.50 813.93L733.00 813.93L733.50 813.93L734.00 813.93L734.50 813.93L735.00 813.93L735.50 813.93L736.00 813.93L736.50 813.93L737.00 813.93L737.50 813.93L738.00 813.93L738.50 813.93L739.00 813.93L739.50 813.93L740.00 813.93L740.50 813.93L741.00 813.92L741.50 813.92L742.00 813.92L742.50 813.92L743.00 813.92L743.50 813.92L744.00 813.92L744.50 813.92L745.00 813.92L745.50 813.92L746.00 813.92L746.50 813.92L747.00 813.92L747.50 813.91L748.00 813.91L748.50 813.91L749.00 813.91L749.50 813.91L750.00 813.91L750.50 813.91L751.00 813.90L751.50 813.90L752.00 813.90L752.50 813.90L753.00 813.90L753.50 813.89L754.00 813.89L754.50 813.89L755.00 813.89L755.50 813.88L756.00 813.88L756.50 813.88L757.00 813.88L757.50 813.87L758.00 813.87L758.50 813.86L759.00 813.86L759.50 813.86L760.00 813.85L760.50 813.85L761.00 813.84L761.50 813.83L762.00 813.83L762.50 813.82L763.00 813.81L763.50 813.81L764.00 813.80L764.50 813.79L765.00 813.78L765.50 813.77L766.00 813.76L766.50 813.74L767.00 813.73L767.50 813.71L768.00 813.69L768.50 813.67L769.00 813.64L769.50 813.61L770.00 813.57L770.50 813.52L771.00 813.46L771.50 813.39L772.00 813.30L772.50 813.20L773.00 813.08L773.50 812.93L774.00 812.76L774.50 812.56L775.00 812.33L775.50 812.07L776.00 811.78L776.50 811.46L777.00 811.11L777.50 810.74L778.00 810.35L778.50 809.95L779.00 809.56L779.50 809.17L780.00 808.81L780.50 808.49L781.00 808.24L781.50 808.06L782.00 807.98L782.20 807.97L782.50 807.99L783.00 808.09L783.50 808.29L784.00 808.55L784.50 808.88L785.00 809.24L785.50 809.63L786.00 810.03L786.50 810.43L787.00 810.82L787.50 811.19L788.00 811.53L788.50 811.84L789.00 812.13L789.50 812.38L790.00 812.60L790.50 812.80L791.00 812.96L791.50 813.10L792.00 813.22L792.50 813.32L793.00 813.40L793.50 813.47L794.00 813.53L794.50 813.57L795.00 813.61L795.50 813.64L796.00 813.67L796.50 813.69L797.00 813.71L797.50 813.73L798.00 813.74L798.50 813.76L799.00 813.77L799.50 813.78L800.00 813.79L800.50 813.80L801.00 813.81L801.50 813.81L802.00 813.82L802.50 813.83L803.00 813.83L803.50 813.84L804.00 813.84L804.50 813.85L805.00 813.85L805.50 813.86L806.00 813.86L806.50 813.87L807.00 813.87L807.50 813.87L808.00 813.87L808.50 813.88L809.00 813.88L809.50 813.88L810.00 813.89L810.50 813.89L811.00 813.89L811.50 813.89L812.00 813.89L812.50 813.90L813.00 813.90L813.50 813.90L814.00 813.90L814.50 813.90L815.00 813.90L815.50 813.90L816.00 813.91L816.50 813.91L817.00 813.91L817.50 813.91L818.00 813.91L818.50 813.91L819.00 813.91L819.50 813.91L820.00 813.91L820.50 813.91L821.00 813.91L821.50 813.91L822.00 813.91L822.50 813.92L823.00 813.92L823.50 813.92L824.00 813.92L824.50 813.92L825.00 813.92L825.50 813.92L826.00 813.92L826.50 813.92L827.00 813.92L827.50 813.92L828.00 813.92L828.50 813.92L829.00 813.92L829.50 813.92L830.00 813.92L830.50 813.92L831.00 813.92L831.50 813.92L832.00 813.92L832.50 813.92L833.00 813.92L833.50 813.92L834.00 813.91L834.50 813.91L835.00 813.91L835.50 813.91L836.00 813.91L836.50 813.91L837.00 813.91L837.50 813.91L838.00 813.91L838.50 813.91L839.00 813.91L839.50 813.91L840.00 813.91L840.50 813.91L841.00 813.91L841.50 813.90L842.00 813.90L842.50 813.90L843.00 813.90L843.50 813.90L844.00 813.90L844.50 813.90L845.00 813.90L845.50 813.89L846.00 813.89L846.50 813.89L847.00 813.89L847.50 813.89L848.00 813.89L848.50 813.89L849.00 813.88L849.50 813.88L850.00 813.88L850.50 813.88L851.00 813.88L851.50 813.87L852.00 813.87L852.50 813.87L853.00 813.87L853.50 813.86L854.00 813.86L854.50 813.86L855.00 813.86L855.50 813.85L856.00 813.85L856.50 813.85L857.00 813.84L857.50 813.84L858.00 813.83L858.50 813.83L859.00 813.83L859.50 813.82L860.00 813.82L860.50 813.81L861.00 813.81L861.50 813.80L862.00 813.80L862.50 813.79L863.00 813.79L863.50 813.78L864.00 813.77L864.50 813.77L865.00 813.76L865.50 813.75L866.00 813.74L866.50 813.73L867.00 813.73L867.50 813.72L868.00 813.71L868.50 813.70L869.00 813.68L869.50 813.67L870.00 813.66L870.50 813.65L871.00 813.63L871.50 813.62L872.00 813.60L872.50 813.58L873.00 813.56L873.50 813.54L874.00 813.52L874.50 813.50L875.00 813.48L875.50 813.45L876.00 813.42L876.50 813.39L877.00 813.36L877.50 813.32L878.00 813.28L878.50 813.24L879.00 813.19L879.50 813.13L880.00 813.07L880.50 813.01L881.00 812.93L881.50 812.84L882.00 812.73L882.50 812.60L883.00 812.44L883.50 812.23L884.00 811.96L884.50 811.62L885.00 811.17L885.50 810.59L886.00 809.84L886.50 808.88L887.00 807.68L887.50 806.20L888.00 804.41L888.50 802.28L889.00 799.82L889.50 797.04L890.00 793.99L890.50 790.72L891.00 787.35L891.50 784.00L892.00 780.84L892.50 778.07L893.00 775.88L893.50 774.47L894.00 773.99L894.50 774.47L895.00 775.88L895.50 778.07L896.00 780.84L896.50 784.00L897.00 787.35L897.50 790.72L898.00 793.99L898.50 797.05L899.00 799.83L899.50 802.29L900.00 804.41L900.50 806.20L901.00 807.68L901.50 808.88L902.00 809.84L902.50 810.59L903.00 811.17L903.50 811.62L904.00 811.97L904.50 812.23L905.00 812.44L905.50 812.60L906.00 812.73L906.50 812.84L907.00 812.93L907.50 813.01L908.00 813.08L908.50 813.14L909.00 813.19L909.50 813.24L910.00 813.28L910.50 813.32L911.00 813.36L911.50 813.39L912.00 813.42L912.50 813.45L913.00 813.48L913.50 813.50L914.00 813.53L914.50 813.55L915.00 813.57L915.50 813.59L916.00 813.61L916.50 813.62L917.00 813.64L917.50 813.65L918.00 813.66L918.50 813.68L919.00 813.69L919.50 813.70L920.00 813.71L920.50 813.72L921.00 813.73L921.50 813.74L922.00 813.75L922.50 813.76L923.00 813.77L923.50 813.77L924.00 813.78L924.50 813.79L925.00 813.79L925.50 813.80L926.00 813.80L926.50 813.81L927.00 813.82L927.50 813.82L928.00 813.83L928.50 813.83L929.00 813.83L929.50 813.84L930.00 813.84L930.50 813.85L931.00 813.85L931.50 813.85L932.00 813.86L932.50 813.86L933.00 813.86L933.50 813.87L934.00 813.87L934.50 813.87L935.00 813.88L935.50 813.88L936.00 813.88L936.50 813.88L937.00 813.89L937.50 813.89L938.00 813.89L938.50 813.89L939.00 813.90L939.50 813.90L940.00 813.90L940.50 813.90L941.00 813.90L941.50 813.91L942.00 813.91L942.50 813.91L943.00 813.91L943.50 813.91L944.00 813.91L944.50 813.91L945.00 813.92L945.50 813.92L946.00 813.92L946.50 813.92L947.00 813.92L947.50 813.92L948.00 813.92L948.50 813.93L949.00 813.93L949.50 813.93L950.00 813.93L950.50 813.93L951.00 813.93L951.50 813.93L952.00 813.93L952.50 813.93L953.00 813.93L953.50 813.94L954.00 813.94L954.50 813.94L955.00 813.94L955.50 813.94L956.00 813.94L956.50 813.94L957.00 813.94L957.50 813.94L958.00 813.94L958.50 813.94L959.00 813.94L959.50 813.94L960.00 813.95L960.50 813.95L961.00 813.95L961.50 813.95L962.00 813.95L962.50 813.95L963.00 813.95L963.50 813.95L964.00 813.95L964.50 813.95L965.00 813.95L965.50 813.95L966.00 813.95L966.50 813.95L967.00 813.95L967.50 813.95L968.00 813.95L968.50 813.95L969.00 813.95L969.50 813.96L970.00 813.96L970.50 813.96L971.00 813.96L971.50 813.96L972.00 813.96L972.50 813.96L973.00 813.96L973.50 813.96L974.00 813.96L974.50 813.96L975.00 813.96L975.50 813.96L976.00 813.96L976.50 813.96L977.00 813.96L977.50 813.96L978.00 813.96L978.50 813.96L979.00 813.96L979.50 813.96L980.00 813.96L980.50 813.96L981.00 813.96L981.50 813.96L982.00 813.96L982.50 813.96L983.00 813.96L983.50 813.96L984.00 813.96L984.50 813.96L985.00 813.96L985.50 813.96L986.00 813.97L986.50 813.97L987.00 813.97L987.50 813.97L988.00 813.97L988.50 813.97L989.00 813.97L989.50 813.97L990.00 813.97L990.50 813.97L991.00 813.97L991.50 813.97L992.00 813.97L992.50 813.97L993.00 813.97L993.50 813.97L994.00 813.97L994.50 813.97L995.00 813.97L995.50 813.97L996.00 813.97L996.50 813.97L997.00 813.97L997.50 813.97L998.00 813.97L998.50 813.97L999.00 813.97L999.50 813.97L1000.00 813.97L1000.50 813.97L1001.00 813.97L1001.50 813.97L1002.00 813.97L1002.50 813.97L1003.00 813.97L1003.50 813.97L1004.00 813.97L1004.50 813.97L1005.00 813.97L1005.50 813.97L1006.00 813.97L1006.50 813.97L1007.00 813.97L1007.50 813.97L1008.00 813.97L1008.50 813.97L1009.00 813.97L1009.50 813.97L1010.00 813.97L1010.50 813.97L1011.00 813.97L1011.50 813.97L1012.00 813.97L1012.50 813.97L1013.00 813.97L1013.50 813.97L1014.00 813.97L1014.50 813.97L1015.00 813.97L1015.50 813.97L1016.00 813.97L1016.50 813.97L1017.00 813.97L1017.50 813.97L1018.00 813.97L1018.50 813.97L1019.00 813.97L1019.50 813.97L1020.00 813.97L1020.50 813.97L1021.00 813.97L1021.50 813.97L1022.00 813.97L1022.50 813.97L1023.00 813.97L1023.50 813.97L1024.00 813.97L1024.50 813.97L1025.00 813.97L1025.50 813.97L1026.00 813.97L1026.50 813.97L1027.00 813.97L1027.50 813.97L1028.00 813.97L1028.50 813.97L1029.00 813.97L1029.50 813.97L1030.00 813.97L1030.50 813.97L1031.00 813.97L1031.50 813.97L1032.00 813.97L1032.50 813.97L1033.00 813.97L1033.50 813.97L1034.00 813.97L1034.50 813.97L1035.00 813.96L1035.50 813.96L1036.00 813.96L1036.50 813.96L1037.00 813.96L1037.50 813.96L1038.00 813.96L1038.50 813.96L1039.00 813.96L1039.50 813.96L1040.00 813.96L1040.50 813.96L1041.00 813.96L1041.50 813.96L1042.00 813.96L1042.50 813.96L1043.00 813.96L1043.50 813.96L1044.00 813.96L1044.50 813.96L1045.00 813.96L1045.50 813.96L1046.00 813.96L1046.50 813.96L1047.00 813.96L1047.50 813.96L1048.00 813.95L1048.50 813.95L1049.00 813.95L1049.50 813.95L1050.00 813.95L1050.50 813.95L1051.00 813.95L1051.50 813.95L1052.00 813.95L1052.50 813.95L1053.00 813.95L1053.50 813.95L1054.00 813.95L1054.50 813.95L1055.00 813.94L1055.50 813.94L1056.00 813.94L1056.50 813.94L1057.00 813.94L1057.50 813.94L1058.00 813.94L1058.50 813.94L1059.00 813.94L1059.50 813.93L1060.00 813.93L1060.50 813.93L1061.00 813.93L1061.50 813.93L1062.00 813.93L1062.50 813.93L1063.00 813.92L1063.50 813.92L1064.00 813.92L1064.50 813.92L1065.00 813.92L1065.50 813.92L1066.00 813.91L1066.50 813.91L1067.00 813.91L1067.50 813.91L1068.00 813.90L1068.50 813.90L1069.00 813.90L1069.50 813.90L1070.00 813.89L1070.50 813.89L1071.00 813.89L1071.50 813.88L1072.00 813.88L1072.50 813.87L1073.00 813.87L1073.50 813.87L1074.00 813.86L1074.50 813.86L1075.00 813.85L1075.50 813.84L1076.00 813.84L1076.50 813.83L1077.00 813.83L1077.50 813.82L1078.00 813.81L1078.50 813.80L1079.00 813.79L1079.50 813.78L1080.00 813.77L1080.50 813.76L1081.00 813.75L1081.50 813.74L1082.00 813.73L1082.50 813.71L1083.00 813.69L1083.50 813.68L1084.00 813.66L1084.50 813.63L1085.00 813.61L1085.50 813.58L1086.00 813.54L1086.50 813.50L1087.00 813.45L1087.50 813.39L1088.00 813.31L1088.50 813.21L1089.00 813.08L1089.50 812.93L1090.00 812.73L1090.50 812.48L1091.00 812.18L1091.50 811.80L1092.00 811.35L1092.50 810.81L1093.00 810.19L1093.50 809.47L1094.00 808.66L1094.50 807.76L1095.00 806.79L1095.50 805.77L1096.00 804.72L1096.50 803.67L1097.00 802.67L1097.50 801.76L1098.00 801.00L1098.50 800.42L1099.00 800.08L1099.40 799.99L1099.50 799.99L1100.00 800.18L1100.50 800.62L1101.00 801.28L1101.50 802.11L1102.00 803.06L1102.50 804.09L1103.00 805.14L1103.50 806.18L1104.00 807.19L1104.50 808.13L1105.00 808.99L1105.50 809.77L1106.00 810.45L1106.50 811.04L1107.00 811.54L1107.50 811.96L1108.00 812.31L1108.50 812.59L1109.00 812.81L1109.50 812.99L1110.00 813.14L1110.50 813.25L1111.00 813.34L1111.50 813.41L1112.00 813.47L1112.50 813.52L1113.00 813.56L1113.50 813.59L1114.00 813.62L1114.50 813.64L1115.00 813.66L1115.50 813.68L1116.00 813.70L1116.50 813.72L1117.00 813.73L1117.50 813.74L1118.00 813.76L1118.50 813.77L1119.00 813.78L1119.50 813.79L1120.00 813.80L1120.50 813.81L1121.00 813.81L1121.50 813.82L1122.00 813.83L1122.50 813.83L1123.00 813.84L1123.50 813.85L1124.00 813.85L1124.50 813.86L1125.00 813.86L1125.50 813.87L1126.00 813.87L1126.50 813.87L1127.00 813.88L1127.50 813.88L1128.00 813.89L1128.50 813.89L1129.00 813.89L1129.50 813.90L1130.00 813.90L1130.50 813.90L1131.00 813.90L1131.50 813.91L1132.00 813.91L1132.50 813.91L1133.00 813.91L1133.50 813.91L1134.00 813.92L1134.50 813.92L1135.00 813.92L1135.50 813.92L1136.00 813.92L1136.50 813.93L1137.00 813.93L1137.50 813.93L1138.00 813.93L1138.50 813.93L1139.00 813.93L1139.50 813.93L1140.00 813.93L1140.50 813.94L1141.00 813.94L1141.50 813.94L1142.00 813.94L1142.50 813.94L1143.00 813.94L1143.50 813.94L1144.00 813.94L1144.50 813.94L1145.00 813.94L1145.50 813.94L1146.00 813.94L1146.50 813.95L1147.00 813.95L1147.50 813.95L1148.00 813.95L1148.50 813.95L1149.00 813.95L1149.50 813.95L1150.00 813.95L1150.50 813.95L1151.00 813.95L1151.50 813.95L1152.00 813.95L1152.50 813.95L1153.00 813.95L1153.50 813.95L1154.00 813.95L1154.50 813.95L1155.00 813.95L1155.50 813.95L1156.00 813.95L1156.50 813.95L1157.00 813.95L1157.50 813.95L1158.00 813.95L1158.50 813.95L1159.00 813.95L1159.50 813.95L1160.00 813.95L1160.50 813.95L1161.00 813.95L1161.50 813.95L1162.00 813.95L1162.50 813.95L1163.00 813.95L1163.50 813.95L1164.00 813.95L1164.50 813.95L1165.00 813.95L1165.50 813.95L1166.00 813.95L1166.50 813.95L1167.00 813.95L1167.50 813.95L1168.00 813.95L1168.50 813.95L1169.00 813.95L1169.50 813.95L1170.00 813.95L1170.50 813.94L1171.00 813.94L1171.50 813.94L1172.00 813.94L1172.50 813.94L1173.00 813.94L1173.50 813.94L1174.00 813.94L1174.50 813.93L1175.00 813.93L1175.50 813.93L1176.00 813.93L1176.50 813.93L1177.00 813.92L1177.50 813.92L1178.00 813.92L1178.50 813.92L1179.00 813.91L1179.50 813.91L1180.00 813.90L1180.50 813.90L1181.00 813.90L1181.50 813.89L1182.00 813.88L1182.50 813.88L1183.00 813.87L1183.50 813.86L1184.00 813.85L1184.50 813.84L1185.00 813.82L1185.50 813.80L1186.00 813.78L1186.50 813.75L1187.00 813.72L1187.50 813.68L1188.00 813.62L1188.50 813.56L1189.00 813.48L1189.50 813.38L1190.00 813.27L1190.50 813.14L1191.00 812.99L1191.50 812.83L1192.00 812.65L1192.50 812.46L1193.00 812.27L1193.50 812.09L1194.00 811.93L1194.50 811.79L1195.00 811.71L1195.50 811.68L1196.00 811.71L1196.50 811.79L1197.00 811.93L1197.50 812.09L1198.00 812.27L1198.50 812.46L1199.00 812.65L1199.50 812.83L1200.00 812.99L1200.50 813.14L1201.00 813.27L1201.50 813.38L1202.00 813.48L1202.50 813.56L1203.00 813.62L1203.50 813.68L1204.00 813.72L1204.50 813.75L1205.00 813.78L1205.50 813.80L1206.00 813.82L1206.50 813.84L1207.00 813.85L1207.50 813.86L1208.00 813.87L1208.50 813.88L1209.00 813.88L1209.50 813.89L1210.00 813.90L1210.50 813.90L1211.00 813.91L1211.50 813.91L1212.00 813.91L1212.50 813.92L1213.00 813.92L1213.50 813.92L1214.00 813.93L1214.50 813.93L1215.00 813.93L1215.50 813.93L1216.00 813.93L1216.50 813.94L1217.00 813.94L1217.50 813.94L1218.00 813.94L1218.50 813.94L1219.00 813.94L1219.50 813.94L1220.00 813.94L1220.50 813.95L1221.00 813.95L1221.50 813.95L1222.00 813.95L1222.50 813.95L1223.00 813.95L1223.50 813.95L1224.00 813.95L1224.50 813.95L1225.00 813.95L1225.50 813.95L1226.00 813.95L1226.50 813.95L1227.00 813.95L1227.50 813.95L1228.00 813.95L1228.50 813.95L1229.00 813.95L1229.50 813.95L1230.00 813.95L1230.50 813.96L1231.00 813.96L1231.50 813.96L1232.00 813.96L1232.50 813.96L1233.00 813.96L1233.50 813.96L1234.00 813.96L1234.50 813.95L1235.00 813.95L1235.50 813.95L1236.00 813.95L1236.50 813.95L1237.00 813.95L1237.50 813.95L1238.00 813.95L1238.50 813.95L1239.00 813.95L1239.50 813.95L1240.00 813.95L1240.50 813.95L1241.00 813.95L1241.50 813.95L1242.00 813.95L1242.50 813.95L1243.00 813.95L1243.50 813.95L1244.00 813.95L1244.50 813.95L1245.00 813.95L1245.50 813.95L1246.00 813.95L1246.50 813.95L1247.00 813.94L1247.50 813.94L1248.00 813.94L1248.50 813.94L1249.00 813.94L1249.50 813.94L1250.00 813.94L1250.50 813.94L1251.00 813.94L1251.50 813.94L1252.00 813.93L1252.50 813.93L1253.00 813.93L1253.50 813.93L1254.00 813.93L1254.50 813.93L1255.00 813.93L1255.50 813.92L1256.00 813.92L1256.50 813.92L1257.00 813.92L1257.50 813.92L1258.00 813.91L1258.50 813.91L1259.00 813.91L1259.50 813.91L1260.00 813.90L1260.50 813.90L1261.00 813.90L1261.50 813.90L1262.00 813.89L1262.50 813.89L1263.00 813.89L1263.50 813.88L1264.00 813.88L1264.50 813.87L1265.00 813.87L1265.50 813.86L1266.00 813.86L1266.50 813.85L1267.00 813.85L1267.50 813.84L1268.00 813.84L1268.50 813.83L1269.00 813.82L1269.50 813.81L1270.00 813.80L1270.50 813.80L1271.00 813.79L1271.50 813.77L1272.00 813.76L1272.50 813.75L1273.00 813.73L1273.50 813.72L1274.00 813.70L1274.50 813.68L1275.00 813.65L1275.50 813.62L1276.00 813.58L1276.50 813.54L1277.00 813.48L1277.50 813.42L1278.00 813.33L1278.50 813.23L1279.00 813.11L1279.50 812.95L1280.00 812.77L1280.50 812.54L1281.00 812.28L1281.50 811.96L1282.00 811.60L1282.50 811.18L1283.00 810.71L1283.50 810.18L1284.00 809.61L1284.50 808.99L1285.00 808.34L1285.50 807.67L1286.00 806.99L1286.50 806.33L1287.00 805.70L1287.50 805.14L1288.00 804.66L1288.50 804.30L1289.00 804.07L1289.50 803.99L1290.00 804.07L1290.50 804.30L1291.00 804.66L1291.50 805.14L1292.00 805.71L1292.50 806.33L1293.00 806.99L1293.50 807.67L1294.00 808.34L1294.50 808.99L1295.00 809.61L1295.50 810.18L1296.00 810.71L1296.50 811.18L1297.00 811.60L1297.50 811.96L1298.00 812.28L1298.50 812.54L1299.00 812.77L1299.50 812.95L1300.00 813.11L1300.50 813.23L1301.00 813.34L1301.50 813.42L1302.00 813.49L1302.50 813.54L1303.00 813.58L1303.50 813.62L1304.00 813.65L1304.50 813.68L1305.00 813.70L1305.50 813.72L1306.00 813.74L1306.50 813.75L1307.00 813.76L1307.50 813.78L1308.00 813.79L1308.50 813.80L1309.00 813.81L1309.50 813.81L1310.00 813.82L1310.50 813.83L1311.00 813.84L1311.50 813.84L1312.00 813.85L1312.50 813.86L1313.00 813.86L1313.50 813.87L1314.00 813.87L1314.50 813.88L1315.00 813.88L1315.50 813.88L1316.00 813.89L1316.50 813.89L1317.00 813.89L1317.50 813.90L1318.00 813.90L1318.50 813.90L1319.00 813.91L1319.50 813.91L1320.00 813.91L1320.50 813.91L1321.00 813.92L1321.50 813.92L1322.00 813.92L1322.50 813.92L1323.00 813.92L1323.50 813.93L1324.00 813.93L1324.50 813.93L1325.00 813.93L1325.50 813.93L1326.00 813.93L1326.50 813.94L1327.00 813.94L1327.50 813.94L1328.00 813.94L1328.50 813.94L1329.00 813.94L1329.50 813.94L1330.00 813.94L1330.50 813.94L1331.00 813.95L1331.50 813.95L1332.00 813.95L1332.50 813.95L1333.00 813.95L1333.50 813.95L1334.00 813.95L1334.50 813.95L1335.00 813.95L1335.50 813.95L1336.00 813.95L1336.50 813.95L1337.00 813.95L1337.50 813.95L1338.00 813.96L1338.50 813.96L1339.00 813.96L1339.50 813.96L1340.00 813.96L1340.50 813.96L1341.00 813.96L1341.50 813.96L1342.00 813.96L1342.50 813.96L1343.00 813.96L1343.50 813.96L1344.00 813.96L1344.50 813.96L1345.00 813.96L1345.50 813.96L1346.00 813.96L1346.50 813.96L1347.00 813.96L1347.50 813.96L1348.00 813.96L1348.50 813.96L1349.00 813.96L1349.50 813.96L1350.00 813.96L1350.50 813.96L1351.00 813.96L1351.50 813.96L1352.00 813.96L1352.50 813.96L1353.00 813.96L1353.50 813.96L1354.00 813.96L1354.50 813.95L1355.00 813.95L1355.50 813.95L1356.00 813.95L1356.50 813.95L1357.00 813.95L1357.50 813.95L1358.00 813.95L1358.50 813.95L1359.00 813.95L1359.50 813.94L1360.00 813.94L1360.50 813.94L1361.00 813.94L1361.50 813.94L1362.00 813.94L1362.50 813.93L1363.00 813.93L1363.50 813.93L1364.00 813.92L1364.50 813.92L1365.00 813.92L1365.50 813.91L1366.00 813.91L1366.50 813.90L1367.00 813.90L1367.50 813.89L1368.00 813.88L1368.50 813.87L1369.00 813.86L1369.50 813.85L1370.00 813.83L1370.50 813.81L1371.00 813.79L1371.50 813.76L1372.00 813.72L1372.50 813.68L1373.00 813.62L1373.50 813.55L1374.00 813.47L1374.50 813.37L1375.00 813.26L1375.50 813.13L1376.00 812.99L1376.50 812.83L1377.00 812.67L1377.50 812.51L1378.00 812.35L1378.50 812.20L1379.00 812.09L1379.50 812.01L1380.00 811.99" fill="none" stroke="#007fff" stroke-width="8" stroke-linejoin="round" stroke-linecap="butt" shape-rendering="crispEdges"/>
<rect x="124.2" y="26.1" width="1260" height="1014" fill="none" stroke="#000" stroke-width="7.8"/>
<rect x="226.8" y="1043" width="7.8" height="7" fill="#000"/>
<rect x="331.1" y="1043" width="7.8" height="17" fill="#000"/>
<rect x="435.3" y="1043" width="7.8" height="7" fill="#000"/>
<rect x="541.7" y="1043" width="7.8" height="17" fill="#000"/>
<rect x="646.0" y="1043" width="7.8" height="7" fill="#000"/>
<rect x="750.7" y="1043" width="7.8" height="17" fill="#000"/>
<rect x="854.9" y="1043" width="7.8" height="7" fill="#000"/>
<rect x="961.0" y="1043" width="7.8" height="17" fill="#000"/>
<rect x="1065.3" y="1043" width="7.8" height="7" fill="#000"/>
<rect x="1169.7" y="1043" width="7.8" height="17" fill="#000"/>
<rect x="1276.1" y="1043" width="7.8" height="7" fill="#000"/>
<rect x="120.2" y="1043" width="7.9" height="17" fill="#000"/>
<rect x="1380.3" y="1043" width="7.9" height="17" fill="#000"/>
<text transform="translate(124.2 1115) scale(1 1.05)" text-anchor="middle" class="t" font-size="54">20</text>
<text transform="translate(334.2 1115) scale(1 1.05)" text-anchor="middle" class="t" font-size="54">30</text>
<text transform="translate(544.2 1115) scale(1 1.05)" text-anchor="middle" class="t" font-size="54">40</text>
<text transform="translate(754.2 1115) scale(1 1.05)" text-anchor="middle" class="t" font-size="54">50</text>
<text transform="translate(964.2 1115) scale(1 1.05)" text-anchor="middle" class="t" font-size="54">60</text>
<text transform="translate(1174.2 1115) scale(1 1.05)" text-anchor="middle" class="t" font-size="54">70</text>
<text transform="translate(1384.2 1115) scale(1 1.05)" text-anchor="middle" class="t" font-size="54">80</text>
<text transform="translate(838 195) scale(1 1.065)" class="t" font-size="52.8">BSCFTZN membrane</text>
<text transform="translate(916 474.5) scale(1 1.065)" class="t" font-size="52.8">BSCFTZN powder</text>
<text transform="translate(1014 740) scale(1 1.065)" class="t" font-size="52.8">BSCF powder</text>
<text transform="translate(400 892) scale(1 1.04)" class="t" font-size="53"><tspan x="0" y="0" letter-spacing="-0.1">PDF#04-006-9276 Ba</tspan><tspan x="515.9" y="13.5" font-size="35">0.5</tspan><tspan x="565.8" y="0">Sr</tspan><tspan x="622.4" y="13.5" font-size="35">0.5</tspan><tspan x="672.0" y="0">Co</tspan><tspan x="742.1" y="13.5" font-size="35">0.8</tspan><tspan x="793.0" y="0">Fe</tspan><tspan x="854.6" y="13.5" font-size="35">0.2</tspan><tspan x="903.7" y="0">O</tspan><tspan x="946.6" y="13.5" font-size="35">3</tspan></text>
<text transform="translate(670.8 1217.5) scale(1 1.036)" class="t" font-size="68">2θ (°)</text>
<text transform="translate(76.8 808.5) rotate(-90) scale(0.975 1.038)" x="0" y="0" class="t" font-size="68.5">Relative Intensity</text>
</svg>
</body></html>
